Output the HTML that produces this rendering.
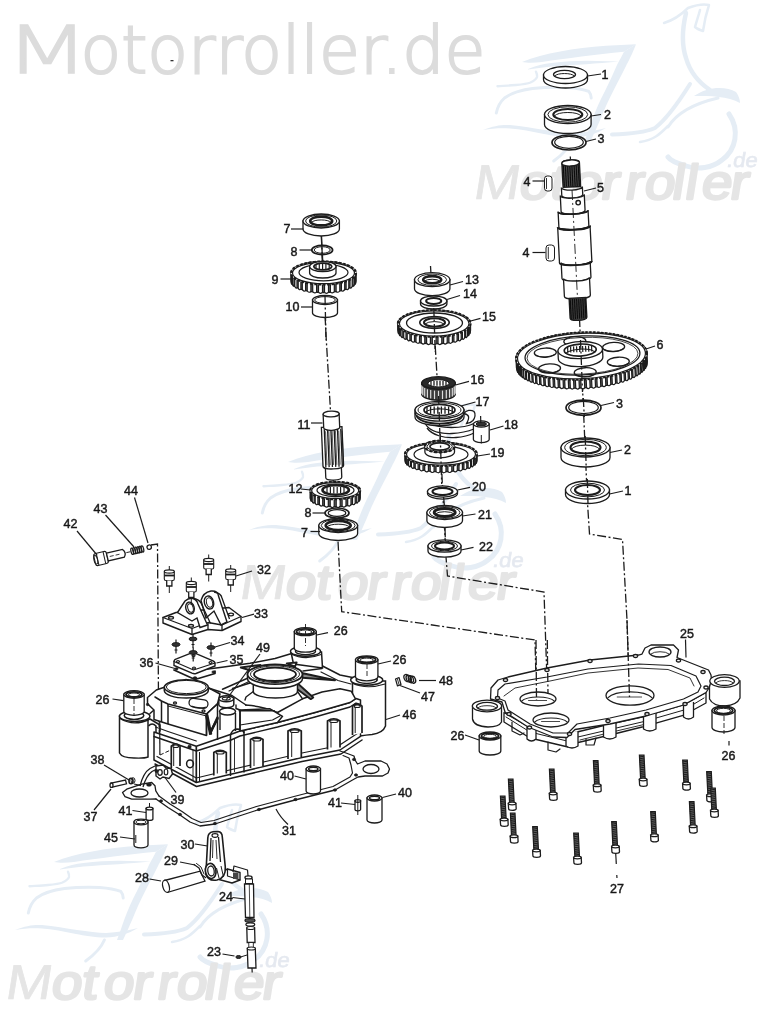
<!DOCTYPE html>
<html lang="de"><head><meta charset="utf-8"><title>Motorroller.de</title>
<style>
html,body{margin:0;padding:0;background:#fff;}
body{width:768px;height:1010px;overflow:hidden;}
svg{display:block;}
.lb{font-family:"Liberation Sans","DejaVu Sans",sans-serif;fill:#1a1a1a;stroke:#1a1a1a;stroke-width:0.45px;text-anchor:middle;}
</style></head><body>
<svg width="768" height="1010" viewBox="0 0 768 1010">
<defs><filter id="soft" x="0" y="0" width="100%" height="100%" filterUnits="objectBoundingBox"><feGaussianBlur stdDeviation="0.45"/></filter></defs>
<rect width="768" height="1010" fill="#fff"/>
<g filter="url(#soft)">
<rect width="768" height="1010" fill="#fff"/>
<g transform="translate(0 0)" fill="none" stroke="#e5edf5" stroke-linecap="round" stroke-linejoin="round">
<path d="M522 62 C544 53 574 48 606 45.7 L636 44.3 L624 51.8 C596 54.5 566 58.5 542 62 C534 63 527 63 522 62 Z" fill="#e5edf5" stroke="none"/>
<path d="M528 69 C536 65.5 544 63.8 551.5 63 C564 61.5 576 61 586.5 60.8 L619 61.6 C608 62.6 596 63.4 586.5 64.2 C574 65 562 65.6 551.5 66.5 C543 67.5 535 68.6 528 69.5 Z" fill="#e5edf5" stroke="none"/>
<path d="M636 44.3 C632 55 628 62 626 66 C622 74 618 82 614.5 88.5 C609 99 604 110 600.5 119 C597 127 594 134 591 140 L585 140 C588 132 590 126 592.5 119 C596 110 600 100 605 91 C609 83 613 74 617 65 C619 61 622 56 624 51.8 Z" fill="#e5edf5" stroke="none"/>
<path d="M497.5 86.2 C504 85.8 510 85.6 516 85 C522 84.5 527 84 530.5 82.5 C534.5 80.5 536.5 79 537 77 C537.3 75 536.6 73 536 71.7" stroke-width="2.4"/>
<path d="M496.3 113 C497.5 107 500 102 504.5 98 C512 92.5 522 90 532.5 88.6 C544 87.2 556 86.9 567.7 87.4 C576 88 584 89.5 588.8 91.4 C590.5 93.5 591.2 95.5 591.2 98" stroke-width="3"/>
<path d="M483 130 C494 125.5 502 124.5 510 125 C522 126 534 128.5 545 130 C556 131.5 566 133 574 133 C586 132.5 596 130.5 606 128 C596 134 586 137 574 137.5 C562 137.5 552 135.5 544 134 C532 131.5 520 129 510 128.5 C500 128 492 128.5 483 130 Z" fill="#e5edf5" stroke="none"/>
<path d="M553.7 161 C562 155 569 148 572.4 140" stroke-width="3"/>
<path d="M612 134.5 C630 134 646 132 655 128 C668 118 680 100 690 84" stroke-width="4"/>
<path d="M640 142 C654 140 660 134 668 126" stroke-width="2.5"/>
<path d="M686 13 C682 30 682 46 686 58 C690 72 698 82 710 90" stroke-width="4.5"/>
<path d="M664 23 C674 20 682 14 688 8 C696 5 704 4 709 5 C706 14 704 24 703 31 C700 30 697 29 695 27 C697 20 699 14 700 10" stroke-width="2.5"/>
<path d="M694 96 C708 86 726 86 736 92 C739 96 740 100 740 103 C728 96 710 96 694 96 Z" fill="#e5edf5" stroke="none"/>
<path d="M729 114 C740 130 736 150 722 160 C712 168 698 170 686 166 C676 163 670 160 668 157" stroke-width="5"/>
<path d="M668 127 C676 114 692 104 718 98" stroke-width="3"/>
</g>
<text transform="translate(472 199) skewX(-9) scale(1.13 1)" x="0 40.5 67.5 86.5 112.7 134 151.2 175.6 187.1 201.5 227" y="0" font-family="'Liberation Sans', 'DejaVu Sans', sans-serif" font-size="49" fill="#e5e5e5" stroke="#e5e5e5" stroke-width="2.3" stroke-linejoin="round"><tspan stroke-width="0.7">M</tspan>otorroller</text>
<text transform="translate(726 167.2) skewX(-9)" x="0" y="0" font-family="'Liberation Sans', 'DejaVu Sans', sans-serif" font-size="20.5" fill="#e5e9f0" stroke="#e5e9f0" stroke-width="0.6" textLength="31" lengthAdjust="spacingAndGlyphs">.de</text>
<g transform="translate(-234 400)" fill="none" stroke="#e5edf5" stroke-linecap="round" stroke-linejoin="round">
<path d="M522 62 C544 53 574 48 606 45.7 L636 44.3 L624 51.8 C596 54.5 566 58.5 542 62 C534 63 527 63 522 62 Z" fill="#e5edf5" stroke="none"/>
<path d="M528 69 C536 65.5 544 63.8 551.5 63 C564 61.5 576 61 586.5 60.8 L619 61.6 C608 62.6 596 63.4 586.5 64.2 C574 65 562 65.6 551.5 66.5 C543 67.5 535 68.6 528 69.5 Z" fill="#e5edf5" stroke="none"/>
<path d="M636 44.3 C632 55 628 62 626 66 C622 74 618 82 614.5 88.5 C609 99 604 110 600.5 119 C597 127 594 134 591 140 L585 140 C588 132 590 126 592.5 119 C596 110 600 100 605 91 C609 83 613 74 617 65 C619 61 622 56 624 51.8 Z" fill="#e5edf5" stroke="none"/>
<path d="M497.5 86.2 C504 85.8 510 85.6 516 85 C522 84.5 527 84 530.5 82.5 C534.5 80.5 536.5 79 537 77 C537.3 75 536.6 73 536 71.7" stroke-width="2.4"/>
<path d="M496.3 113 C497.5 107 500 102 504.5 98 C512 92.5 522 90 532.5 88.6 C544 87.2 556 86.9 567.7 87.4 C576 88 584 89.5 588.8 91.4 C590.5 93.5 591.2 95.5 591.2 98" stroke-width="3"/>
<path d="M483 130 C494 125.5 502 124.5 510 125 C522 126 534 128.5 545 130 C556 131.5 566 133 574 133 C586 132.5 596 130.5 606 128 C596 134 586 137 574 137.5 C562 137.5 552 135.5 544 134 C532 131.5 520 129 510 128.5 C500 128 492 128.5 483 130 Z" fill="#e5edf5" stroke="none"/>
<path d="M553.7 161 C562 155 569 148 572.4 140" stroke-width="3"/>
<path d="M612 134.5 C630 134 646 132 655 128 C668 118 680 100 690 84" stroke-width="4"/>
<path d="M640 142 C654 140 660 134 668 126" stroke-width="2.5"/>
<path d="M686 13 C682 30 682 46 686 58 C690 72 698 82 710 90" stroke-width="4.5"/>
<path d="M664 23 C674 20 682 14 688 8 C696 5 704 4 709 5 C706 14 704 24 703 31 C700 30 697 29 695 27 C697 20 699 14 700 10" stroke-width="2.5"/>
<path d="M694 96 C708 86 726 86 736 92 C739 96 740 100 740 103 C728 96 710 96 694 96 Z" fill="#e5edf5" stroke="none"/>
<path d="M729 114 C740 130 736 150 722 160 C712 168 698 170 686 166 C676 163 670 160 668 157" stroke-width="5"/>
<path d="M668 127 C676 114 692 104 718 98" stroke-width="3"/>
</g>
<text transform="translate(238 599) skewX(-9) scale(1.13 1)" x="0 40.5 67.5 86.5 112.7 134 151.2 175.6 187.1 201.5 227" y="0" font-family="'Liberation Sans', 'DejaVu Sans', sans-serif" font-size="49" fill="#e5e5e5" stroke="#e5e5e5" stroke-width="2.3" stroke-linejoin="round"><tspan stroke-width="0.7">M</tspan>otorroller</text>
<text transform="translate(492 567.2) skewX(-9)" x="0" y="0" font-family="'Liberation Sans', 'DejaVu Sans', sans-serif" font-size="20.5" fill="#e5e9f0" stroke="#e5e9f0" stroke-width="0.6" textLength="31" lengthAdjust="spacingAndGlyphs">.de</text>
<g transform="translate(-468 800)" fill="none" stroke="#e5edf5" stroke-linecap="round" stroke-linejoin="round">
<path d="M522 62 C544 53 574 48 606 45.7 L636 44.3 L624 51.8 C596 54.5 566 58.5 542 62 C534 63 527 63 522 62 Z" fill="#e5edf5" stroke="none"/>
<path d="M528 69 C536 65.5 544 63.8 551.5 63 C564 61.5 576 61 586.5 60.8 L619 61.6 C608 62.6 596 63.4 586.5 64.2 C574 65 562 65.6 551.5 66.5 C543 67.5 535 68.6 528 69.5 Z" fill="#e5edf5" stroke="none"/>
<path d="M636 44.3 C632 55 628 62 626 66 C622 74 618 82 614.5 88.5 C609 99 604 110 600.5 119 C597 127 594 134 591 140 L585 140 C588 132 590 126 592.5 119 C596 110 600 100 605 91 C609 83 613 74 617 65 C619 61 622 56 624 51.8 Z" fill="#e5edf5" stroke="none"/>
<path d="M497.5 86.2 C504 85.8 510 85.6 516 85 C522 84.5 527 84 530.5 82.5 C534.5 80.5 536.5 79 537 77 C537.3 75 536.6 73 536 71.7" stroke-width="2.4"/>
<path d="M496.3 113 C497.5 107 500 102 504.5 98 C512 92.5 522 90 532.5 88.6 C544 87.2 556 86.9 567.7 87.4 C576 88 584 89.5 588.8 91.4 C590.5 93.5 591.2 95.5 591.2 98" stroke-width="3"/>
<path d="M483 130 C494 125.5 502 124.5 510 125 C522 126 534 128.5 545 130 C556 131.5 566 133 574 133 C586 132.5 596 130.5 606 128 C596 134 586 137 574 137.5 C562 137.5 552 135.5 544 134 C532 131.5 520 129 510 128.5 C500 128 492 128.5 483 130 Z" fill="#e5edf5" stroke="none"/>
<path d="M553.7 161 C562 155 569 148 572.4 140" stroke-width="3"/>
<path d="M612 134.5 C630 134 646 132 655 128 C668 118 680 100 690 84" stroke-width="4"/>
<path d="M640 142 C654 140 660 134 668 126" stroke-width="2.5"/>
<path d="M686 13 C682 30 682 46 686 58 C690 72 698 82 710 90" stroke-width="4.5"/>
<path d="M664 23 C674 20 682 14 688 8 C696 5 704 4 709 5 C706 14 704 24 703 31 C700 30 697 29 695 27 C697 20 699 14 700 10" stroke-width="2.5"/>
<path d="M694 96 C708 86 726 86 736 92 C739 96 740 100 740 103 C728 96 710 96 694 96 Z" fill="#e5edf5" stroke="none"/>
<path d="M729 114 C740 130 736 150 722 160 C712 168 698 170 686 166 C676 163 670 160 668 157" stroke-width="5"/>
<path d="M668 127 C676 114 692 104 718 98" stroke-width="3"/>
</g>
<text transform="translate(4 999) skewX(-9) scale(1.13 1)" x="0 40.5 67.5 86.5 112.7 134 151.2 175.6 187.1 201.5 227" y="0" font-family="'Liberation Sans', 'DejaVu Sans', sans-serif" font-size="49" fill="#e5e5e5" stroke="#e5e5e5" stroke-width="2.3" stroke-linejoin="round"><tspan stroke-width="0.7">M</tspan>otorroller</text>
<text transform="translate(258 967.2) skewX(-9)" x="0" y="0" font-family="'Liberation Sans', 'DejaVu Sans', sans-serif" font-size="20.5" fill="#e5e9f0" stroke="#e5e9f0" stroke-width="0.6" textLength="31" lengthAdjust="spacingAndGlyphs">.de</text>
<text y="73.3" font-family="'DejaVu Sans Light', 'DejaVu Sans', 'Liberation Sans', sans-serif" font-weight="200" font-size="66" fill="#dcdcdc" stroke="#dcdcdc" stroke-width="2.1"><tspan x="5" textLength="84.5" lengthAdjust="spacingAndGlyphs" stroke-width="1.4">M</tspan><tspan x="80.5" textLength="405" lengthAdjust="spacingAndGlyphs">otorroller.de</tspan></text>
<rect x="170.5" y="60" width="3" height="1.3" fill="#333"/>
<line x1="570.3" y1="156.5" x2="570.5" y2="162" stroke="#1c1c1c" stroke-width="1.2"/>
<path d="M579.5 318 L587.5 503 L589.5 534 L622.5 539.5 L627 620 L629.5 697" fill="none" stroke="#1c1c1c" stroke-width="1.3" stroke-dasharray="9 2.5 2 2.5"/>
<path d="M430.5 266 L437 376 L446 557 L447.5 576 L544 592 L547.5 694" fill="none" stroke="#1c1c1c" stroke-width="1.3" stroke-dasharray="9 2.5 2 2.5"/>
<path d="M321.3 236 L326 335 L330.5 411" fill="none" stroke="#1c1c1c" stroke-width="1.3" stroke-dasharray="9 2.5 2 2.5"/>
<path d="M333 478 L338 541 L341.7 611.7 L535 640 L536.5 700" fill="none" stroke="#1c1c1c" stroke-width="1.3" stroke-dasharray="9 2.5 2 2.5"/>
<path d="M151 545 L157.5 544 L158.5 700 L160 760" fill="none" stroke="#1c1c1c" stroke-width="1.3" stroke-dasharray="9 2.5 2 2.5"/>
<path d="M543.5 75 L543.5 79.5 A22 8.5 0 0 0 587.5 79.5 L587.5 75 Z" fill="white" stroke="#1c1c1c" stroke-width="1.3"/>
<ellipse cx="565.5" cy="75" rx="22" ry="8.5" fill="white" stroke="#1c1c1c" stroke-width="1.3"/>
<ellipse cx="564.5" cy="74.5" rx="11" ry="4.2" fill="none" stroke="#1c1c1c" stroke-width="1.3"/>
<path d="M554.5 76 A11 4.2 0 0 1 574.5 76" fill="none" stroke="#1c1c1c" stroke-width="1"/>
<line x1="587.5" y1="76" x2="601" y2="74" stroke="#1c1c1c" stroke-width="1.2"/>
<text x="605" y="78.5" class="lb" font-size="12.5">1</text>
<path d="M544.5 114.5 L544.5 124.5 A23.3 9 0 0 0 591.1 124.5 L591.1 114.5 Z" fill="white" stroke="#1c1c1c" stroke-width="1.3"/>
<ellipse cx="567.8" cy="114.5" rx="23.3" ry="9" fill="white" stroke="#1c1c1c" stroke-width="1.3"/>
<ellipse cx="567.8" cy="114.5" rx="19.9" ry="7.7" fill="none" stroke="#1c1c1c" stroke-width="1"/>
<ellipse cx="567.8" cy="114.5" rx="14.5" ry="5.5" fill="none" stroke="#1c1c1c" stroke-width="2.1"/>
<path d="M554.3 116 A14.5 5.5 0 0 1 581.3 116" fill="none" stroke="#1c1c1c" stroke-width="1"/>
<line x1="591" y1="116" x2="601" y2="114.5" stroke="#1c1c1c" stroke-width="1.2"/>
<text x="607.5" y="118.5" class="lb" font-size="12.5">2</text>
<ellipse cx="569" cy="142.5" rx="17" ry="7.5" fill="white" stroke="#1c1c1c" stroke-width="1.7"/>
<ellipse cx="569" cy="142.3" rx="14.3" ry="6" fill="none" stroke="#1c1c1c" stroke-width="1.2"/>
<line x1="586" y1="141.5" x2="596" y2="139" stroke="#1c1c1c" stroke-width="1.2"/>
<text x="601" y="142.5" class="lb" font-size="12.5">3</text>
<g transform="rotate(-2.9 570.5 160)">
<path d="M561.7 163 L561.7 187 L579.3 187 L579.3 163 A8.8 3 0 0 0 561.7 163 Z" fill="#555" stroke="#1c1c1c" stroke-width="1.3"/>
<line x1="563" y1="164.5" x2="563" y2="186.5" stroke="#111" stroke-width="1.3"/>
<line x1="565.1" y1="164.5" x2="565.1" y2="186.5" stroke="#111" stroke-width="1.3"/>
<line x1="567.3" y1="164.5" x2="567.3" y2="186.5" stroke="#111" stroke-width="1.3"/>
<line x1="569.5" y1="164.5" x2="569.5" y2="186.5" stroke="#111" stroke-width="1.3"/>
<line x1="571.6" y1="164.5" x2="571.6" y2="186.5" stroke="#111" stroke-width="1.3"/>
<line x1="573.8" y1="164.5" x2="573.8" y2="186.5" stroke="#111" stroke-width="1.3"/>
<line x1="575.9" y1="164.5" x2="575.9" y2="186.5" stroke="#111" stroke-width="1.3"/>
<line x1="578" y1="164.5" x2="578" y2="186.5" stroke="#111" stroke-width="1.3"/>
<ellipse cx="570.5" cy="163" rx="8.8" ry="3" fill="white" stroke="#1c1c1c" stroke-width="1.3"/>
<path d="M560 187 L560 195 A10.5 3.2 0 0 0 581 195 L581 187 A10.5 3.2 0 0 1 560 187 Z" fill="white" stroke="#1c1c1c" stroke-width="1.3"/>
<path d="M558.5 195 L558.5 211 A12 3.2 0 0 0 582.5 211 L582.5 195 A12 3.2 0 0 1 558.5 195 Z" fill="white" stroke="#1c1c1c" stroke-width="1.3"/>
<path d="M555.5 211 L555.5 226.5 A15 3.2 0 0 0 585.5 226.5 L585.5 211 A15 3.2 0 0 1 555.5 211 Z" fill="white" stroke="#1c1c1c" stroke-width="1.3"/>
<path d="M554.3 226.5 L554.3 262 A16.2 3.2 0 0 0 586.7 262 L586.7 226.5 A16.2 3.2 0 0 1 554.3 226.5 Z" fill="white" stroke="#1c1c1c" stroke-width="1.3"/>
<path d="M556 262 L556 278 A14.5 3.2 0 0 0 585 278 L585 262 A14.5 3.2 0 0 1 556 262 Z" fill="white" stroke="#1c1c1c" stroke-width="1.3"/>
<path d="M557.5 278 L557.5 296 A13 3.2 0 0 0 583.5 296 L583.5 278 A13 3.2 0 0 1 557.5 278 Z" fill="white" stroke="#1c1c1c" stroke-width="1.3"/>
<path d="M554.3 226.5 A16.2 3.4 0 0 0 586.7 226.5" fill="none" stroke="#1c1c1c" stroke-width="2.1"/>
<path d="M555.5 211 A15 3.2 0 0 0 585.5 211" fill="none" stroke="#1c1c1c" stroke-width="1.7"/>
<path d="M554.3 262 A16.2 3.4 0 0 0 586.7 262" fill="none" stroke="#1c1c1c" stroke-width="1.7"/>
<ellipse cx="576" cy="203" rx="2.2" ry="2.2" fill="none" stroke="#1c1c1c" stroke-width="1.4"/>
<path d="M562.1 298 L562.1 318 A8.4 2.6 0 0 0 578.9 318 L578.9 298 Z" fill="#444" stroke="#1c1c1c" stroke-width="1.3"/>
<line x1="563.2" y1="299" x2="563.2" y2="319" stroke="#111" stroke-width="1.3"/>
<line x1="565.3" y1="299" x2="565.3" y2="319" stroke="#111" stroke-width="1.3"/>
<line x1="567.4" y1="299" x2="567.4" y2="319" stroke="#111" stroke-width="1.3"/>
<line x1="569.5" y1="299" x2="569.5" y2="319" stroke="#111" stroke-width="1.3"/>
<line x1="571.6" y1="299" x2="571.6" y2="319" stroke="#111" stroke-width="1.3"/>
<line x1="573.7" y1="299" x2="573.7" y2="319" stroke="#111" stroke-width="1.3"/>
<line x1="575.8" y1="299" x2="575.8" y2="319" stroke="#111" stroke-width="1.3"/>
<line x1="577.9" y1="299" x2="577.9" y2="319" stroke="#111" stroke-width="1.3"/>
<line x1="570.5" y1="190" x2="570.5" y2="296" stroke="#1c1c1c" stroke-width="0.9" stroke-dasharray="10 3 2 3"/>
</g>
<rect x="544.5" y="176" width="7.5" height="15" rx="2.8" fill="white" stroke="#1c1c1c" stroke-width="1"/>
<line x1="546.5" y1="178" x2="546.5" y2="189" stroke="#1c1c1c" stroke-width="0.9"/>
<line x1="532.5" y1="181" x2="544" y2="181" stroke="#1c1c1c" stroke-width="1.2"/>
<text x="527" y="185.5" class="lb" font-size="12.5">4</text>
<rect x="546" y="245" width="8.5" height="16" rx="3" fill="white" stroke="#1c1c1c" stroke-width="1"/>
<line x1="548.3" y1="247" x2="548.3" y2="259" stroke="#1c1c1c" stroke-width="0.9"/>
<line x1="532.5" y1="252.5" x2="545.5" y2="252.5" stroke="#1c1c1c" stroke-width="1.2"/>
<text x="526" y="257" class="lb" font-size="12.5">4</text>
<line x1="584" y1="191" x2="596" y2="188" stroke="#1c1c1c" stroke-width="1.2"/>
<text x="600.5" y="192" class="lb" font-size="12.5">5</text>
<g transform="rotate(-2.6 581.5 356)">
<path d="M516 356 L516 364.5 A65.5 23.5 0 0 0 647 364.5 L647 356 A65.5 23.5 0 0 0 516 356 Z" fill="#6a6a6a" stroke="#1c1c1c" stroke-width="1.3"/>
<path d="M645.8 360 L645.8 368.7 Q646.1 370.6 646.4 367.4 L646.4 358.7" fill="white" stroke="#1c1c1c" stroke-width="1.2"/>
<path d="M644.5 361.9 L644.5 370.6 Q645 372.5 645.4 369.3 L645.4 360.6" fill="white" stroke="#1c1c1c" stroke-width="1.2"/>
<path d="M642.8 363.8 L642.8 372.5 Q643.4 374.3 644 371.2 L644 362.5" fill="white" stroke="#1c1c1c" stroke-width="1.2"/>
<path d="M640.7 365.5 L640.7 374.2 Q641.5 376.1 642.2 373 L642.2 364.3" fill="white" stroke="#1c1c1c" stroke-width="1.2"/>
<path d="M638.2 367.3 L638.2 376 Q639.1 377.9 640 374.8 L640 366.1" fill="white" stroke="#1c1c1c" stroke-width="1.2"/>
<path d="M635.3 368.9 L635.3 377.6 Q636.3 379.5 637.3 376.5 L637.3 367.8" fill="white" stroke="#1c1c1c" stroke-width="1.2"/>
<path d="M632 370.4 L632 379.1 Q633.2 381.1 634.3 378.1 L634.3 369.4" fill="white" stroke="#1c1c1c" stroke-width="1.2"/>
<path d="M628.4 371.9 L628.4 380.6 Q629.7 382.6 630.9 379.6 L630.9 370.9" fill="white" stroke="#1c1c1c" stroke-width="1.2"/>
<path d="M624.5 373.2 L624.5 381.9 Q625.8 384 627.2 381 L627.2 372.3" fill="white" stroke="#1c1c1c" stroke-width="1.2"/>
<path d="M620.3 374.4 L620.3 383.1 Q621.7 385.2 623.2 382.3 L623.2 373.6" fill="white" stroke="#1c1c1c" stroke-width="1.2"/>
<path d="M615.8 375.5 L615.8 384.2 Q617.3 386.4 618.9 383.5 L618.9 374.8" fill="white" stroke="#1c1c1c" stroke-width="1.2"/>
<path d="M611 376.5 L611 385.2 Q612.7 387.4 614.3 384.5 L614.3 375.8" fill="white" stroke="#1c1c1c" stroke-width="1.2"/>
<path d="M606.1 377.3 L606.1 386 Q607.8 388.2 609.5 385.4 L609.5 376.7" fill="white" stroke="#1c1c1c" stroke-width="1.2"/>
<path d="M601 377.9 L601 386.6 Q602.8 388.9 604.5 386.2 L604.5 377.5" fill="white" stroke="#1c1c1c" stroke-width="1.2"/>
<path d="M595.8 378.4 L595.8 387.1 Q597.6 389.5 599.4 386.8 L599.4 378.1" fill="white" stroke="#1c1c1c" stroke-width="1.2"/>
<path d="M590.5 378.8 L590.5 387.5 Q592.3 389.9 594.1 387.3 L594.1 378.6" fill="white" stroke="#1c1c1c" stroke-width="1.2"/>
<path d="M585.1 379 L585.1 387.7 Q586.9 390.1 588.7 387.6 L588.7 378.9" fill="white" stroke="#1c1c1c" stroke-width="1.2"/>
<path d="M579.7 379 L579.7 387.7 Q581.5 390.2 583.3 387.7 L583.3 379" fill="white" stroke="#1c1c1c" stroke-width="1.2"/>
<path d="M574.3 378.9 L574.3 387.6 Q576.1 390.1 577.9 387.7 L577.9 379" fill="white" stroke="#1c1c1c" stroke-width="1.2"/>
<path d="M568.9 378.6 L568.9 387.3 Q570.7 389.9 572.5 387.5 L572.5 378.8" fill="white" stroke="#1c1c1c" stroke-width="1.2"/>
<path d="M563.6 378.1 L563.6 386.8 Q565.4 389.5 567.2 387.1 L567.2 378.4" fill="white" stroke="#1c1c1c" stroke-width="1.2"/>
<path d="M558.5 377.5 L558.5 386.2 Q560.2 388.9 562 386.6 L562 377.9" fill="white" stroke="#1c1c1c" stroke-width="1.2"/>
<path d="M553.5 376.7 L553.5 385.4 Q555.2 388.2 556.9 386 L556.9 377.3" fill="white" stroke="#1c1c1c" stroke-width="1.2"/>
<path d="M548.7 375.8 L548.7 384.5 Q550.3 387.4 552 385.2 L552 376.5" fill="white" stroke="#1c1c1c" stroke-width="1.2"/>
<path d="M544.1 374.8 L544.1 383.5 Q545.7 386.4 547.2 384.2 L547.2 375.5" fill="white" stroke="#1c1c1c" stroke-width="1.2"/>
<path d="M539.8 373.6 L539.8 382.3 Q541.3 385.2 542.7 383.1 L542.7 374.4" fill="white" stroke="#1c1c1c" stroke-width="1.2"/>
<path d="M535.8 372.3 L535.8 381 Q537.2 384 538.5 381.9 L538.5 373.2" fill="white" stroke="#1c1c1c" stroke-width="1.2"/>
<path d="M532.1 370.9 L532.1 379.6 Q533.3 382.6 534.6 380.6 L534.6 371.9" fill="white" stroke="#1c1c1c" stroke-width="1.2"/>
<path d="M528.7 369.4 L528.7 378.1 Q529.8 381.1 531 379.1 L531 370.4" fill="white" stroke="#1c1c1c" stroke-width="1.2"/>
<path d="M525.7 367.8 L525.7 376.5 Q526.7 379.5 527.7 377.6 L527.7 368.9" fill="white" stroke="#1c1c1c" stroke-width="1.2"/>
<path d="M523 366.1 L523 374.8 Q523.9 377.9 524.8 376 L524.8 367.3" fill="white" stroke="#1c1c1c" stroke-width="1.2"/>
<path d="M520.8 364.3 L520.8 373 Q521.5 376.1 522.3 374.2 L522.3 365.5" fill="white" stroke="#1c1c1c" stroke-width="1.2"/>
<path d="M519 362.5 L519 371.2 Q519.6 374.3 520.2 372.5 L520.2 363.8" fill="white" stroke="#1c1c1c" stroke-width="1.2"/>
<path d="M517.6 360.6 L517.6 369.3 Q518 372.5 518.5 370.6 L518.5 361.9" fill="white" stroke="#1c1c1c" stroke-width="1.2"/>
<path d="M516.6 358.7 L516.6 367.4 Q516.9 370.6 517.2 368.7 L517.2 360" fill="white" stroke="#1c1c1c" stroke-width="1.2"/>
<ellipse cx="581.5" cy="356" rx="65.5" ry="23.5" fill="white" stroke="#1c1c1c" stroke-width="2.2" stroke-dasharray="2.4 1.5"/>
<ellipse cx="581.5" cy="356" rx="64" ry="22.7" fill="white" stroke="#1c1c1c" stroke-width="1.2"/>
</g>
<g transform="rotate(-2.6 581.5 356)">
<ellipse cx="582.5" cy="355.5" rx="57.5" ry="19.5" fill="none" stroke="#1c1c1c" stroke-width="1.3"/>
<ellipse cx="582.5" cy="355.8" rx="55.5" ry="18.3" fill="none" stroke="#1c1c1c" stroke-width="0.8"/>
<ellipse cx="545.5" cy="351" rx="11" ry="4.6" fill="none" stroke="#1c1c1c" stroke-width="1.3"/>
<path d="M536 353 A11 4.6 0 0 0 555 353" fill="none" stroke="#1c1c1c" stroke-width="1"/>
<ellipse cx="575.5" cy="341" rx="11" ry="4.6" fill="none" stroke="#1c1c1c" stroke-width="1.3"/>
<path d="M566 343 A11 4.6 0 0 0 585 343" fill="none" stroke="#1c1c1c" stroke-width="1"/>
<ellipse cx="614" cy="348.5" rx="11" ry="4.6" fill="none" stroke="#1c1c1c" stroke-width="1.3"/>
<path d="M604.5 350.5 A11 4.6 0 0 0 623.5 350.5" fill="none" stroke="#1c1c1c" stroke-width="1"/>
<ellipse cx="618" cy="363.5" rx="11" ry="4.6" fill="none" stroke="#1c1c1c" stroke-width="1.3"/>
<path d="M608.5 365.5 A11 4.6 0 0 0 627.5 365.5" fill="none" stroke="#1c1c1c" stroke-width="1"/>
<ellipse cx="584.5" cy="372.5" rx="11" ry="4.6" fill="none" stroke="#1c1c1c" stroke-width="1.3"/>
<path d="M575 374.5 A11 4.6 0 0 0 594 374.5" fill="none" stroke="#1c1c1c" stroke-width="1"/>
<ellipse cx="549" cy="367" rx="11" ry="4.6" fill="none" stroke="#1c1c1c" stroke-width="1.3"/>
<path d="M539.5 369 A11 4.6 0 0 0 558.5 369" fill="none" stroke="#1c1c1c" stroke-width="1"/>
<path d="M558.2 350 L558.2 358 A22.3 8.5 0 0 0 602.8 358 L602.8 350 Z" fill="white" stroke="#1c1c1c" stroke-width="1.3"/>
<ellipse cx="580.5" cy="350" rx="22.3" ry="8.5" fill="white" stroke="#1c1c1c" stroke-width="1.3"/>
<ellipse cx="580.5" cy="350" rx="16" ry="6" fill="none" stroke="#1c1c1c" stroke-width="1.7"/>
<line x1="568" y1="346" x2="568" y2="352" stroke="#1c1c1c" stroke-width="1.2"/>
<line x1="571" y1="346" x2="571" y2="352" stroke="#1c1c1c" stroke-width="1.2"/>
<line x1="574" y1="346" x2="574" y2="352" stroke="#1c1c1c" stroke-width="1.2"/>
<line x1="577" y1="346" x2="577" y2="352" stroke="#1c1c1c" stroke-width="1.2"/>
<line x1="580" y1="346" x2="580" y2="352" stroke="#1c1c1c" stroke-width="1.2"/>
<line x1="583" y1="346" x2="583" y2="352" stroke="#1c1c1c" stroke-width="1.2"/>
<line x1="586" y1="346" x2="586" y2="352" stroke="#1c1c1c" stroke-width="1.2"/>
<line x1="589" y1="346" x2="589" y2="352" stroke="#1c1c1c" stroke-width="1.2"/>
<line x1="592" y1="346" x2="592" y2="352" stroke="#1c1c1c" stroke-width="1.2"/>
<path d="M565.5 353 A16 6 0 0 1 595.5 353" fill="none" stroke="#1c1c1c" stroke-width="1"/>
</g>
<line x1="646" y1="349" x2="655" y2="346" stroke="#1c1c1c" stroke-width="1.2"/>
<text x="660" y="349" class="lb" font-size="12.5">6</text>
<path d="M580.5 340 L582.5 392" fill="none" stroke="#1c1c1c" stroke-width="1.3" stroke-dasharray="9 2.5 2 2.5"/>
<ellipse cx="583.5" cy="407.7" rx="17.5" ry="7.6" fill="white" stroke="#1c1c1c" stroke-width="1.7"/>
<ellipse cx="583.5" cy="407.5" rx="14.8" ry="6.1" fill="none" stroke="#1c1c1c" stroke-width="1.2"/>
<line x1="601" y1="405.5" x2="614" y2="402.5" stroke="#1c1c1c" stroke-width="1.2"/>
<text x="619.5" y="407.5" class="lb" font-size="12.5">3</text>
<path d="M583.3 398 L584.3 417" fill="none" stroke="#1c1c1c" stroke-width="1.3" stroke-dasharray="9 2.5 2 2.5"/>
<path d="M561 447.5 L561 457.5 A24.5 9.5 0 0 0 610 457.5 L610 447.5 Z" fill="white" stroke="#1c1c1c" stroke-width="1.3"/>
<ellipse cx="585.5" cy="447.5" rx="24.5" ry="9.5" fill="white" stroke="#1c1c1c" stroke-width="1.3"/>
<ellipse cx="585.5" cy="447.5" rx="20.8" ry="8.2" fill="none" stroke="#1c1c1c" stroke-width="1"/>
<ellipse cx="585.5" cy="447.5" rx="15" ry="6" fill="none" stroke="#1c1c1c" stroke-width="2.1"/>
<path d="M571.5 449 A15 6 0 0 1 599.5 449" fill="none" stroke="#1c1c1c" stroke-width="1"/>
<line x1="610" y1="452.5" x2="622" y2="450" stroke="#1c1c1c" stroke-width="1.2"/>
<text x="627.5" y="453.5" class="lb" font-size="12.5">2</text>
<path d="M585.2 436 L586.2 468" fill="none" stroke="#1c1c1c" stroke-width="1.3" stroke-dasharray="9 2.5 2 2.5"/>
<path d="M565.5 490 L565.5 494.5 A22 9 0 0 0 609.5 494.5 L609.5 490 Z" fill="white" stroke="#1c1c1c" stroke-width="1.3"/>
<ellipse cx="587.5" cy="490" rx="22" ry="9" fill="white" stroke="#1c1c1c" stroke-width="1.3"/>
<ellipse cx="587.5" cy="490" rx="17" ry="6.8" fill="none" stroke="#1c1c1c" stroke-width="1"/>
<ellipse cx="587.5" cy="490" rx="12.5" ry="5" fill="none" stroke="#1c1c1c" stroke-width="2.1"/>
<line x1="609.5" y1="494" x2="623" y2="491" stroke="#1c1c1c" stroke-width="1.2"/>
<text x="628" y="494.5" class="lb" font-size="12.5">1</text>
<path d="M587.3 479 L588 504" fill="none" stroke="#1c1c1c" stroke-width="1.3" stroke-dasharray="9 2.5 2 2.5"/>
<path d="M414.5 279.7 L414.5 288.7 A17.7 7 0 0 0 449.9 288.7 L449.9 279.7 Z" fill="white" stroke="#1c1c1c" stroke-width="1.3"/>
<ellipse cx="432.2" cy="279.7" rx="17.7" ry="7" fill="white" stroke="#1c1c1c" stroke-width="1.3"/>
<ellipse cx="432.2" cy="279.7" rx="14.3" ry="5.7" fill="none" stroke="#1c1c1c" stroke-width="1"/>
<ellipse cx="432.2" cy="279.7" rx="9" ry="3.6" fill="none" stroke="#1c1c1c" stroke-width="2.6"/>
<path d="M424.2 281.2 A9 3.6 0 0 1 440.2 281.2" fill="none" stroke="#1c1c1c" stroke-width="1"/>
<line x1="450" y1="285" x2="463" y2="281.5" stroke="#1c1c1c" stroke-width="1.2"/>
<text x="472" y="284" class="lb" font-size="12.5">13</text>
<path d="M420.5 301 L420.5 304 A13.2 5 0 0 0 446.9 304 L446.9 301 Z" fill="white" stroke="#1c1c1c" stroke-width="1.3"/>
<ellipse cx="433.7" cy="301" rx="13.2" ry="5" fill="white" stroke="#1c1c1c" stroke-width="1.3"/>
<ellipse cx="433.7" cy="301" rx="7.6" ry="3" fill="none" stroke="#1c1c1c" stroke-width="2.1"/>
<line x1="447" y1="299.5" x2="460" y2="295.5" stroke="#1c1c1c" stroke-width="1.2"/>
<text x="470" y="297.5" class="lb" font-size="12.5">14</text>
<g>
<path d="M397.9 323.5 L397.9 330.5 A36.3 13.3 0 0 0 470.5 330.5 L470.5 323.5 A36.3 13.3 0 0 0 397.9 323.5 Z" fill="#6a6a6a" stroke="#1c1c1c" stroke-width="1.3"/>
<path d="M469.7 325.8 L469.7 333 Q470 334.8 470.3 331.6 L470.3 324.4" fill="white" stroke="#1c1c1c" stroke-width="1.2"/>
<path d="M468.1 327.8 L468.1 335 Q468.7 336.8 469.3 333.6 L469.3 326.4" fill="white" stroke="#1c1c1c" stroke-width="1.2"/>
<path d="M465.6 329.7 L465.6 336.9 Q466.5 338.7 467.4 335.6 L467.4 328.4" fill="white" stroke="#1c1c1c" stroke-width="1.2"/>
<path d="M462.4 331.4 L462.4 338.6 Q463.5 340.5 464.7 337.4 L464.7 330.2" fill="white" stroke="#1c1c1c" stroke-width="1.2"/>
<path d="M458.5 332.9 L458.5 340.1 Q459.8 342.1 461.2 339.1 L461.2 331.9" fill="white" stroke="#1c1c1c" stroke-width="1.2"/>
<path d="M453.9 334.2 L453.9 341.4 Q455.5 343.4 457.1 340.5 L457.1 333.3" fill="white" stroke="#1c1c1c" stroke-width="1.2"/>
<path d="M448.9 335.2 L448.9 342.4 Q450.7 344.5 452.4 341.7 L452.4 334.5" fill="white" stroke="#1c1c1c" stroke-width="1.2"/>
<path d="M443.6 335.9 L443.6 343.1 Q445.4 345.3 447.2 342.6 L447.2 335.4" fill="white" stroke="#1c1c1c" stroke-width="1.2"/>
<path d="M438 336.2 L438 343.4 Q439.9 345.8 441.8 343.2 L441.8 336" fill="white" stroke="#1c1c1c" stroke-width="1.2"/>
<path d="M432.3 336.3 L432.3 343.5 Q434.2 346 436.1 343.5 L436.1 336.3" fill="white" stroke="#1c1c1c" stroke-width="1.2"/>
<path d="M426.6 336 L426.6 343.2 Q428.5 345.8 430.4 343.4 L430.4 336.2" fill="white" stroke="#1c1c1c" stroke-width="1.2"/>
<path d="M421.2 335.4 L421.2 342.6 Q423 345.3 424.8 343.1 L424.8 335.9" fill="white" stroke="#1c1c1c" stroke-width="1.2"/>
<path d="M416 334.5 L416 341.7 Q417.7 344.5 419.5 342.4 L419.5 335.2" fill="white" stroke="#1c1c1c" stroke-width="1.2"/>
<path d="M411.3 333.3 L411.3 340.5 Q412.9 343.4 414.5 341.4 L414.5 334.2" fill="white" stroke="#1c1c1c" stroke-width="1.2"/>
<path d="M407.2 331.9 L407.2 339.1 Q408.6 342.1 409.9 340.1 L409.9 332.9" fill="white" stroke="#1c1c1c" stroke-width="1.2"/>
<path d="M403.7 330.2 L403.7 337.4 Q404.9 340.5 406 338.6 L406 331.4" fill="white" stroke="#1c1c1c" stroke-width="1.2"/>
<path d="M401 328.4 L401 335.6 Q401.9 338.7 402.8 336.9 L402.8 329.7" fill="white" stroke="#1c1c1c" stroke-width="1.2"/>
<path d="M399.1 326.4 L399.1 333.6 Q399.7 336.8 400.3 335 L400.3 327.8" fill="white" stroke="#1c1c1c" stroke-width="1.2"/>
<path d="M398.1 324.4 L398.1 331.6 Q398.4 334.8 398.7 333 L398.7 325.8" fill="white" stroke="#1c1c1c" stroke-width="1.2"/>
<path d="M398.7 320.2 L398.7 327.4 Q398.4 330.6 398.1 328.8 L398.1 321.6" fill="white" stroke="#1c1c1c" stroke-width="1.2"/>
<path d="M470.3 321.6 L470.3 328.8 Q470 330.6 469.7 327.4 L469.7 320.2" fill="white" stroke="#1c1c1c" stroke-width="1.2"/>
<ellipse cx="434.2" cy="323.5" rx="36.3" ry="13.3" fill="white" stroke="#1c1c1c" stroke-width="2.2" stroke-dasharray="2.5 1.6"/>
<ellipse cx="434.2" cy="323.5" rx="34.8" ry="12.5" fill="white" stroke="#1c1c1c" stroke-width="1.2"/>
</g>
<ellipse cx="434.5" cy="323" rx="28" ry="10" fill="none" stroke="#1c1c1c" stroke-width="1.3"/>
<ellipse cx="434.5" cy="322.5" rx="14.7" ry="6" fill="white" stroke="#1c1c1c" stroke-width="1.6"/>
<ellipse cx="434.5" cy="322.5" rx="10.5" ry="4.2" fill="none" stroke="#1c1c1c" stroke-width="2"/>
<path d="M425 324 A10.5 4.2 0 0 1 444 324" fill="none" stroke="#1c1c1c" stroke-width="1"/>
<line x1="470.5" y1="321" x2="480.5" y2="318.3" stroke="#1c1c1c" stroke-width="1.2"/>
<text x="489" y="320.5" class="lb" font-size="12.5">15</text>
<path d="M433.8 308 L435.2 352" fill="none" stroke="#1c1c1c" stroke-width="1.3" stroke-dasharray="9 2.5 2 2.5"/>
<path d="M421.7 383 L421.7 394 A16.8 6.3 0 0 0 455.3 394 L455.3 383 Z" fill="#3a3a3a" stroke="#1c1c1c" stroke-width="1.3"/>
<line x1="455.2" y1="385.3" x2="455.2" y2="393.8" stroke="#ddd" stroke-width="1.2"/>
<line x1="454.2" y1="386.7" x2="454.2" y2="395.2" stroke="#ddd" stroke-width="1.2"/>
<line x1="452.3" y1="388.1" x2="452.3" y2="396.6" stroke="#ddd" stroke-width="1.2"/>
<line x1="449.6" y1="389.2" x2="449.6" y2="397.7" stroke="#ddd" stroke-width="1.2"/>
<line x1="446.3" y1="390.1" x2="446.3" y2="398.6" stroke="#ddd" stroke-width="1.2"/>
<line x1="442.5" y1="390.6" x2="442.5" y2="399.1" stroke="#ddd" stroke-width="1.2"/>
<line x1="438.5" y1="390.8" x2="438.5" y2="399.3" stroke="#ddd" stroke-width="1.2"/>
<line x1="434.5" y1="390.6" x2="434.5" y2="399.1" stroke="#ddd" stroke-width="1.2"/>
<line x1="430.7" y1="390.1" x2="430.7" y2="398.6" stroke="#ddd" stroke-width="1.2"/>
<line x1="427.4" y1="389.2" x2="427.4" y2="397.7" stroke="#ddd" stroke-width="1.2"/>
<line x1="424.7" y1="388.1" x2="424.7" y2="396.6" stroke="#ddd" stroke-width="1.2"/>
<line x1="422.8" y1="386.7" x2="422.8" y2="395.2" stroke="#ddd" stroke-width="1.2"/>
<line x1="421.8" y1="385.3" x2="421.8" y2="393.8" stroke="#ddd" stroke-width="1.2"/>
<ellipse cx="438.5" cy="383" rx="16.8" ry="6.3" fill="#2a2a2a" stroke="#1c1c1c" stroke-width="1.3"/>
<ellipse cx="438.5" cy="383.3" rx="10.5" ry="3.6" fill="white" stroke="#1c1c1c" stroke-width="1"/>
<line x1="431" y1="380.8" x2="431" y2="385.8" stroke="#1c1c1c" stroke-width="1.3"/>
<line x1="434" y1="380.8" x2="434" y2="385.8" stroke="#1c1c1c" stroke-width="1.3"/>
<line x1="437" y1="380.8" x2="437" y2="385.8" stroke="#1c1c1c" stroke-width="1.3"/>
<line x1="440" y1="380.8" x2="440" y2="385.8" stroke="#1c1c1c" stroke-width="1.3"/>
<line x1="443" y1="380.8" x2="443" y2="385.8" stroke="#1c1c1c" stroke-width="1.3"/>
<line x1="446" y1="380.8" x2="446" y2="385.8" stroke="#1c1c1c" stroke-width="1.3"/>
<line x1="455.5" y1="385" x2="469" y2="381.3" stroke="#1c1c1c" stroke-width="1.2"/>
<text x="477.5" y="384" class="lb" font-size="12.5">16</text>
<path d="M424 421 C427 430 438 434 452 433.5 C462 433 469 431 474 429 L474 423.5 C470 425.5 462 427.5 451.5 427.5 C441 427.5 434 425.5 431 423 Z" fill="white" stroke="#1c1c1c" stroke-width="1.3"/>
<path d="M427 428 C432 435 444 438.5 456 437.5 C464 437 470 435 474 433" fill="none" stroke="#1c1c1c" stroke-width="1.3"/>
<path d="M464 413.5 C466 410 471 409.5 474 411.5 C476 414 475 418 473 420.5 C471 422.5 468 423.5 466.5 423.5 C468 421 469 418.5 468.5 416.5 C468 415 466 414 464 413.5 Z" fill="white" stroke="#1c1c1c" stroke-width="1.3"/>
<path d="M473.4 424 L473.4 439.5 A7.9 3.1 0 0 0 489.2 439.5 L489.2 424 Z" fill="white" stroke="#1c1c1c" stroke-width="1.3"/>
<ellipse cx="481.3" cy="424" rx="7.9" ry="3.1" fill="white" stroke="#1c1c1c" stroke-width="1.3"/>
<ellipse cx="481.3" cy="424" rx="5.2" ry="2" fill="#333" stroke="#1c1c1c" stroke-width="1"/>
<line x1="480.6" y1="416" x2="480.8" y2="423" stroke="#1c1c1c" stroke-width="1.2"/>
<line x1="481.3" y1="435" x2="481.3" y2="443.5" stroke="#1c1c1c" stroke-width="1"/>
<line x1="490" y1="430" x2="503.5" y2="426" stroke="#1c1c1c" stroke-width="1.2"/>
<text x="511" y="428.5" class="lb" font-size="12.5">18</text>
<path d="M415 410 L415 417 A24.5 8.6 0 0 0 464 417 L464 410 Z" fill="white" stroke="#1c1c1c" stroke-width="1.3"/>
<path d="M415 412.5 A24.5 8.6 0 0 0 464 412.5" fill="none" stroke="#1c1c1c" stroke-width="1.3"/>
<path d="M416.5 415 A23 8.6 0 0 0 462.5 415" fill="none" stroke="#1c1c1c" stroke-width="1.7"/>
<ellipse cx="439.5" cy="410" rx="24.5" ry="8.6" fill="white" stroke="#1c1c1c" stroke-width="1.4"/>
<ellipse cx="439.5" cy="410" rx="21.5" ry="7.3" fill="none" stroke="#1c1c1c" stroke-width="1"/>
<ellipse cx="439.5" cy="410" rx="15.5" ry="5.6" fill="none" stroke="#1c1c1c" stroke-width="1.7"/>
<line x1="427" y1="406.5" x2="427" y2="413.8" stroke="#1c1c1c" stroke-width="1.3"/>
<line x1="430.6" y1="406.5" x2="430.6" y2="413.8" stroke="#1c1c1c" stroke-width="1.3"/>
<line x1="434.2" y1="406.5" x2="434.2" y2="413.8" stroke="#1c1c1c" stroke-width="1.3"/>
<line x1="437.8" y1="406.5" x2="437.8" y2="413.8" stroke="#1c1c1c" stroke-width="1.3"/>
<line x1="441.4" y1="406.5" x2="441.4" y2="413.8" stroke="#1c1c1c" stroke-width="1.3"/>
<line x1="445" y1="406.5" x2="445" y2="413.8" stroke="#1c1c1c" stroke-width="1.3"/>
<line x1="448.6" y1="406.5" x2="448.6" y2="413.8" stroke="#1c1c1c" stroke-width="1.3"/>
<line x1="452.2" y1="406.5" x2="452.2" y2="413.8" stroke="#1c1c1c" stroke-width="1.3"/>
<path d="M425 412.5 A15.5 5.6 0 0 1 454 412.5" fill="none" stroke="#1c1c1c" stroke-width="1"/>
<line x1="461" y1="406" x2="475.5" y2="402" stroke="#1c1c1c" stroke-width="1.2"/>
<text x="482.5" y="405.5" class="lb" font-size="12.5">17</text>
<path d="M438.6 396 L439.8 432" fill="none" stroke="#1c1c1c" stroke-width="1.3" stroke-dasharray="9 2.5 2 2.5"/>
<g>
<path d="M405 454.2 L405 460.2 A36 11.7 0 0 0 477 460.2 L477 454.2 A36 11.7 0 0 0 405 454.2 Z" fill="#6a6a6a" stroke="#1c1c1c" stroke-width="1.3"/>
<path d="M476.1 456.3 L476.1 462.5 Q476.5 464.3 476.8 461.2 L476.8 455" fill="white" stroke="#1c1c1c" stroke-width="1.2"/>
<path d="M474.3 458.1 L474.3 464.3 Q475 466.2 475.7 463.1 L475.7 456.9" fill="white" stroke="#1c1c1c" stroke-width="1.2"/>
<path d="M471.6 459.8 L471.6 466 Q472.6 468 473.6 464.9 L473.6 458.7" fill="white" stroke="#1c1c1c" stroke-width="1.2"/>
<path d="M468.1 461.4 L468.1 467.6 Q469.4 469.6 470.6 466.6 L470.6 460.4" fill="white" stroke="#1c1c1c" stroke-width="1.2"/>
<path d="M463.9 462.7 L463.9 468.9 Q465.3 471 466.8 468 L466.8 461.8" fill="white" stroke="#1c1c1c" stroke-width="1.2"/>
<path d="M459 463.8 L459 470 Q460.7 472.2 462.4 469.3 L462.4 463.1" fill="white" stroke="#1c1c1c" stroke-width="1.2"/>
<path d="M453.6 464.7 L453.6 470.9 Q455.4 473.1 457.3 470.3 L457.3 464.1" fill="white" stroke="#1c1c1c" stroke-width="1.2"/>
<path d="M447.9 465.2 L447.9 471.4 Q449.8 473.7 451.8 471.1 L451.8 464.9" fill="white" stroke="#1c1c1c" stroke-width="1.2"/>
<path d="M442 465.4 L442 471.6 Q444 474 446 471.5 L446 465.3" fill="white" stroke="#1c1c1c" stroke-width="1.2"/>
<path d="M436 465.3 L436 471.5 Q438 474 440 471.6 L440 465.4" fill="white" stroke="#1c1c1c" stroke-width="1.2"/>
<path d="M430.2 464.9 L430.2 471.1 Q432.2 473.7 434.1 471.4 L434.1 465.2" fill="white" stroke="#1c1c1c" stroke-width="1.2"/>
<path d="M424.7 464.1 L424.7 470.3 Q426.6 473.1 428.4 470.9 L428.4 464.7" fill="white" stroke="#1c1c1c" stroke-width="1.2"/>
<path d="M419.6 463.1 L419.6 469.3 Q421.3 472.2 423 470 L423 463.8" fill="white" stroke="#1c1c1c" stroke-width="1.2"/>
<path d="M415.2 461.8 L415.2 468 Q416.7 471 418.1 468.9 L418.1 462.7" fill="white" stroke="#1c1c1c" stroke-width="1.2"/>
<path d="M411.4 460.4 L411.4 466.6 Q412.6 469.6 413.9 467.6 L413.9 461.4" fill="white" stroke="#1c1c1c" stroke-width="1.2"/>
<path d="M408.4 458.7 L408.4 464.9 Q409.4 468 410.4 466 L410.4 459.8" fill="white" stroke="#1c1c1c" stroke-width="1.2"/>
<path d="M406.3 456.9 L406.3 463.1 Q407 466.2 407.7 464.3 L407.7 458.1" fill="white" stroke="#1c1c1c" stroke-width="1.2"/>
<path d="M405.2 455 L405.2 461.2 Q405.5 464.3 405.9 462.5 L405.9 456.3" fill="white" stroke="#1c1c1c" stroke-width="1.2"/>
<ellipse cx="441" cy="454.2" rx="36" ry="11.7" fill="white" stroke="#1c1c1c" stroke-width="2.2" stroke-dasharray="2.6 1.6"/>
<ellipse cx="441" cy="454.2" rx="34.5" ry="10.9" fill="white" stroke="#1c1c1c" stroke-width="1.2"/>
</g>
<ellipse cx="441" cy="454.5" rx="27" ry="8.6" fill="none" stroke="#1c1c1c" stroke-width="1.2"/>
<path d="M424.9 446.5 L424.9 452 A14.8 5.8 0 0 0 454.5 452 L454.5 446.5 Z" fill="white" stroke="#1c1c1c" stroke-width="1.3"/>
<ellipse cx="439.7" cy="446.5" rx="14.8" ry="5.8" fill="white" stroke="#1c1c1c" stroke-width="1.3"/>
<ellipse cx="439.7" cy="446.5" rx="14.8" ry="5.8" fill="white" stroke="#1c1c1c" stroke-width="2.2" stroke-dasharray="3.2 1.6"/>
<ellipse cx="439.7" cy="446.5" rx="12.6" ry="4.7" fill="none" stroke="#1c1c1c" stroke-width="1"/>
<ellipse cx="439.7" cy="446.5" rx="9.8" ry="3.6" fill="none" stroke="#1c1c1c" stroke-width="1.6"/>
<line x1="477.5" y1="456" x2="490" y2="454" stroke="#1c1c1c" stroke-width="1.2"/>
<text x="497.5" y="457" class="lb" font-size="12.5">19</text>
<path d="M440.2 434 L441.7 484" fill="none" stroke="#1c1c1c" stroke-width="1.3" stroke-dasharray="9 2.5 2 2.5"/>
<path d="M427.5 491.5 L427.5 493.5 A15 5.6 0 0 0 457.5 493.5 L457.5 491.5 Z" fill="white" stroke="#1c1c1c" stroke-width="1.3"/>
<ellipse cx="442.5" cy="491.5" rx="15" ry="5.6" fill="white" stroke="#1c1c1c" stroke-width="1.3"/>
<ellipse cx="442.5" cy="491.5" rx="10" ry="3.6" fill="none" stroke="#1c1c1c" stroke-width="2.1"/>
<line x1="457.5" y1="490" x2="470" y2="487.3" stroke="#1c1c1c" stroke-width="1.2"/>
<text x="479" y="490.5" class="lb" font-size="12.5">20</text>
<path d="M426.9 512.5 L426.9 520.5 A17.8 7 0 0 0 462.5 520.5 L462.5 512.5 Z" fill="white" stroke="#1c1c1c" stroke-width="1.3"/>
<ellipse cx="444.7" cy="512.5" rx="17.8" ry="7" fill="white" stroke="#1c1c1c" stroke-width="1.3"/>
<ellipse cx="444.7" cy="512.5" rx="15.2" ry="5.9" fill="none" stroke="#1c1c1c" stroke-width="1"/>
<ellipse cx="444.7" cy="512.5" rx="10.5" ry="4" fill="none" stroke="#1c1c1c" stroke-width="2.9"/>
<path d="M435.2 514 A10.5 4 0 0 1 454.2 514" fill="none" stroke="#1c1c1c" stroke-width="1"/>
<line x1="462.5" y1="516" x2="475.5" y2="514" stroke="#1c1c1c" stroke-width="1.2"/>
<text x="485" y="518.5" class="lb" font-size="12.5">21</text>
<path d="M443.6 497 L444.6 508" fill="none" stroke="#1c1c1c" stroke-width="1.3" stroke-dasharray="9 2.5 2 2.5"/>
<path d="M428 546 L428 551 A16.5 6.2 0 0 0 461 551 L461 546 Z" fill="white" stroke="#1c1c1c" stroke-width="1.3"/>
<ellipse cx="444.5" cy="546" rx="16.5" ry="6.2" fill="white" stroke="#1c1c1c" stroke-width="1.3"/>
<ellipse cx="444.5" cy="546" rx="13" ry="4.8" fill="none" stroke="#1c1c1c" stroke-width="1"/>
<ellipse cx="444.5" cy="546" rx="9.5" ry="3.5" fill="none" stroke="#1c1c1c" stroke-width="2"/>
<line x1="461" y1="550" x2="473.5" y2="547.3" stroke="#1c1c1c" stroke-width="1.2"/>
<text x="486" y="550.5" class="lb" font-size="12.5">22</text>
<path d="M445 528 L445.4 541" fill="none" stroke="#1c1c1c" stroke-width="1.3" stroke-dasharray="9 2.5 2 2.5"/>
<path d="M303 221 L303 229 A18.2 7 0 0 0 339.4 229 L339.4 221 Z" fill="white" stroke="#1c1c1c" stroke-width="1.3"/>
<ellipse cx="321.2" cy="221" rx="18.2" ry="7" fill="white" stroke="#1c1c1c" stroke-width="1.3"/>
<ellipse cx="321.2" cy="221" rx="15.6" ry="6.1" fill="none" stroke="#1c1c1c" stroke-width="1"/>
<ellipse cx="321.2" cy="221" rx="11" ry="4.4" fill="none" stroke="#1c1c1c" stroke-width="2.6"/>
<path d="M311.2 222.5 A11 4.4 0 0 1 331.2 222.5" fill="none" stroke="#1c1c1c" stroke-width="1"/>
<line x1="291" y1="229" x2="303.5" y2="229" stroke="#1c1c1c" stroke-width="1.2"/>
<text x="287" y="232.5" class="lb" font-size="12.5">7</text>
<ellipse cx="322.2" cy="250" rx="10.4" ry="4.6" fill="none" stroke="#1c1c1c" stroke-width="1.7"/>
<ellipse cx="322.2" cy="250" rx="8" ry="3.3" fill="none" stroke="#1c1c1c" stroke-width="1"/>
<line x1="299.5" y1="250" x2="312" y2="250" stroke="#1c1c1c" stroke-width="1.2"/>
<text x="294" y="255.5" class="lb" font-size="12.5">8</text>
<line x1="321.5" y1="236" x2="322.5" y2="262" stroke="#1c1c1c" stroke-width="1.3"/>
<g>
<path d="M291 273 L291 281 A32.5 11.5 0 0 0 356 281 L356 273 A32.5 11.5 0 0 0 291 273 Z" fill="#6a6a6a" stroke="#1c1c1c" stroke-width="1.3"/>
<path d="M355 275.3 L355 283.5 Q355.4 285.3 355.8 282.1 L355.8 273.9" fill="white" stroke="#1c1c1c" stroke-width="1.2"/>
<path d="M353 277.3 L353 285.5 Q353.7 287.3 354.5 284.2 L354.5 276" fill="white" stroke="#1c1c1c" stroke-width="1.2"/>
<path d="M350 279.2 L350 287.4 Q351.1 289.2 352.2 286.1 L352.2 277.9" fill="white" stroke="#1c1c1c" stroke-width="1.2"/>
<path d="M346.1 280.8 L346.1 289 Q347.5 290.9 348.8 287.9 L348.8 279.7" fill="white" stroke="#1c1c1c" stroke-width="1.2"/>
<path d="M341.4 282.1 L341.4 290.3 Q343 292.4 344.7 289.4 L344.7 281.2" fill="white" stroke="#1c1c1c" stroke-width="1.2"/>
<path d="M336.1 283.1 L336.1 291.3 Q338 293.5 339.8 290.7 L339.8 282.5" fill="white" stroke="#1c1c1c" stroke-width="1.2"/>
<path d="M330.4 283.7 L330.4 291.9 Q332.4 294.2 334.3 291.5 L334.3 283.3" fill="white" stroke="#1c1c1c" stroke-width="1.2"/>
<path d="M324.5 284 L324.5 292.2 Q326.5 294.6 328.5 292.1 L328.5 283.9" fill="white" stroke="#1c1c1c" stroke-width="1.2"/>
<path d="M318.5 283.9 L318.5 292.1 Q320.5 294.6 322.5 292.2 L322.5 284" fill="white" stroke="#1c1c1c" stroke-width="1.2"/>
<path d="M312.7 283.3 L312.7 291.5 Q314.6 294.2 316.6 291.9 L316.6 283.7" fill="white" stroke="#1c1c1c" stroke-width="1.2"/>
<path d="M307.2 282.5 L307.2 290.7 Q309 293.5 310.9 291.3 L310.9 283.1" fill="white" stroke="#1c1c1c" stroke-width="1.2"/>
<path d="M302.3 281.2 L302.3 289.4 Q304 292.4 305.6 290.3 L305.6 282.1" fill="white" stroke="#1c1c1c" stroke-width="1.2"/>
<path d="M298.2 279.7 L298.2 287.9 Q299.5 290.9 300.9 289 L300.9 280.8" fill="white" stroke="#1c1c1c" stroke-width="1.2"/>
<path d="M294.8 277.9 L294.8 286.1 Q295.9 289.2 297 287.4 L297 279.2" fill="white" stroke="#1c1c1c" stroke-width="1.2"/>
<path d="M292.5 276 L292.5 284.2 Q293.3 287.3 294 285.5 L294 277.3" fill="white" stroke="#1c1c1c" stroke-width="1.2"/>
<path d="M291.2 273.9 L291.2 282.1 Q291.6 285.3 292 283.5 L292 275.3" fill="white" stroke="#1c1c1c" stroke-width="1.2"/>
<ellipse cx="323.5" cy="273" rx="32.5" ry="11.5" fill="white" stroke="#1c1c1c" stroke-width="2.2" stroke-dasharray="2.7 1.6"/>
<ellipse cx="323.5" cy="273" rx="31" ry="10.7" fill="white" stroke="#1c1c1c" stroke-width="1.2"/>
</g>
<ellipse cx="323.5" cy="272.5" rx="24.5" ry="8.3" fill="none" stroke="#1c1c1c" stroke-width="1.2"/>
<path d="M309.6 266.5 L309.6 273 A13.2 5 0 0 0 336 273 L336 266.5 Z" fill="white" stroke="#1c1c1c" stroke-width="1.3"/>
<ellipse cx="322.8" cy="266.5" rx="13.2" ry="5" fill="white" stroke="#1c1c1c" stroke-width="1.3"/>
<ellipse cx="322.8" cy="266.5" rx="9" ry="3.3" fill="none" stroke="#1c1c1c" stroke-width="1.8"/>
<line x1="316" y1="264" x2="316" y2="269.3" stroke="#1c1c1c" stroke-width="1.2"/>
<line x1="319.3" y1="264" x2="319.3" y2="269.3" stroke="#1c1c1c" stroke-width="1.2"/>
<line x1="322.6" y1="264" x2="322.6" y2="269.3" stroke="#1c1c1c" stroke-width="1.2"/>
<line x1="325.9" y1="264" x2="325.9" y2="269.3" stroke="#1c1c1c" stroke-width="1.2"/>
<line x1="329.2" y1="264" x2="329.2" y2="269.3" stroke="#1c1c1c" stroke-width="1.2"/>
<line x1="280.5" y1="279" x2="291" y2="279" stroke="#1c1c1c" stroke-width="1.2"/>
<text x="275" y="283.5" class="lb" font-size="12.5">9</text>
<path d="M322.4 255 L322.8 262" fill="none" stroke="#1c1c1c" stroke-width="1.3" stroke-dasharray="9 2.5 2 2.5"/>
<path d="M312.5 300 L312.5 313 A12.5 4.5 0 0 0 337.5 313 L337.5 300 Z" fill="white" stroke="#1c1c1c" stroke-width="1.3"/>
<ellipse cx="325" cy="300" rx="12.5" ry="4.5" fill="white" stroke="#1c1c1c" stroke-width="1.3"/>
<ellipse cx="325" cy="300" rx="10.3" ry="3.4" fill="none" stroke="#1c1c1c" stroke-width="1"/>
<line x1="301" y1="307" x2="312.5" y2="307" stroke="#1c1c1c" stroke-width="1.2"/>
<text x="292.5" y="310.5" class="lb" font-size="12.5">10</text>
<path d="M325 296 L326 340" fill="none" stroke="#1c1c1c" stroke-width="1.3" stroke-dasharray="9 2.5 2 2.5"/>
<g transform="rotate(-2.4 331 411)">
<path d="M323 465 L323 477.5 A8 2.6 0 0 0 339 477.5 L339 465 Z" fill="white" stroke="#1c1c1c" stroke-width="1.3"/>
<ellipse cx="331" cy="465" rx="8" ry="2.6" fill="white" stroke="#1c1c1c" stroke-width="1.3"/>
<path d="M320.7 427 L320.7 466 A10.3 3 0 0 0 341.3 466 L341.3 427 Z" fill="white" stroke="#1c1c1c" stroke-width="1.3"/>
<line x1="323.5" y1="429" x2="323.5" y2="467" stroke="#1c1c1c" stroke-width="1.3"/>
<line x1="324.7" y1="431" x2="324.7" y2="465" stroke="#1c1c1c" stroke-width="0.7"/>
<line x1="326.8" y1="429" x2="326.8" y2="467" stroke="#1c1c1c" stroke-width="1.3"/>
<line x1="328" y1="431" x2="328" y2="465" stroke="#1c1c1c" stroke-width="0.7"/>
<line x1="330.1" y1="429" x2="330.1" y2="467" stroke="#1c1c1c" stroke-width="1.3"/>
<line x1="331.3" y1="431" x2="331.3" y2="465" stroke="#1c1c1c" stroke-width="0.7"/>
<line x1="333.4" y1="429" x2="333.4" y2="467" stroke="#1c1c1c" stroke-width="1.3"/>
<line x1="334.6" y1="431" x2="334.6" y2="465" stroke="#1c1c1c" stroke-width="0.7"/>
<line x1="336.7" y1="429" x2="336.7" y2="467" stroke="#1c1c1c" stroke-width="1.3"/>
<line x1="337.9" y1="431" x2="337.9" y2="465" stroke="#1c1c1c" stroke-width="0.7"/>
<line x1="340" y1="429" x2="340" y2="467" stroke="#1c1c1c" stroke-width="1.3"/>
<line x1="341.2" y1="431" x2="341.2" y2="465" stroke="#1c1c1c" stroke-width="0.7"/>
<path d="M323 414 L323 427.5 A8 2.8 0 0 0 339 427.5 L339 414 Z" fill="white" stroke="#1c1c1c" stroke-width="1.3"/>
<ellipse cx="331" cy="414" rx="8" ry="2.8" fill="white" stroke="#1c1c1c" stroke-width="1.3"/>
</g>
<line x1="311" y1="423" x2="322.5" y2="423" stroke="#1c1c1c" stroke-width="1.2"/>
<text x="304" y="428.5" class="lb" font-size="12.5">11</text>
<g>
<path d="M310.2 490.5 L310.2 498 A25 8.7 0 0 0 360.2 498 L360.2 490.5 A25 8.7 0 0 0 310.2 490.5 Z" fill="#6a6a6a" stroke="#1c1c1c" stroke-width="1.3"/>
<path d="M358.9 492.8 L358.9 500.5 Q359.4 502.3 359.9 499.1 L359.9 491.4" fill="white" stroke="#1c1c1c" stroke-width="1.2"/>
<path d="M356.3 494.7 L356.3 502.4 Q357.3 504.2 358.2 501.1 L358.2 493.4" fill="white" stroke="#1c1c1c" stroke-width="1.2"/>
<path d="M352.5 496.3 L352.5 504 Q353.8 505.9 355.2 502.9 L355.2 495.2" fill="white" stroke="#1c1c1c" stroke-width="1.2"/>
<path d="M347.7 497.5 L347.7 505.2 Q349.4 507.3 351 504.4 L351 496.7" fill="white" stroke="#1c1c1c" stroke-width="1.2"/>
<path d="M342.1 498.4 L342.1 506.1 Q344 508.3 346 505.6 L346 497.9" fill="white" stroke="#1c1c1c" stroke-width="1.2"/>
<path d="M336.2 498.7 L336.2 506.4 Q338.2 508.8 340.2 506.2 L340.2 498.5" fill="white" stroke="#1c1c1c" stroke-width="1.2"/>
<path d="M330.2 498.5 L330.2 506.2 Q332.2 508.8 334.2 506.4 L334.2 498.7" fill="white" stroke="#1c1c1c" stroke-width="1.2"/>
<path d="M324.4 497.9 L324.4 505.6 Q326.4 508.3 328.3 506.1 L328.3 498.4" fill="white" stroke="#1c1c1c" stroke-width="1.2"/>
<path d="M319.4 496.7 L319.4 504.4 Q321 507.3 322.7 505.2 L322.7 497.5" fill="white" stroke="#1c1c1c" stroke-width="1.2"/>
<path d="M315.2 495.2 L315.2 502.9 Q316.6 505.9 317.9 504 L317.9 496.3" fill="white" stroke="#1c1c1c" stroke-width="1.2"/>
<path d="M312.2 493.4 L312.2 501.1 Q313.1 504.2 314.1 502.4 L314.1 494.7" fill="white" stroke="#1c1c1c" stroke-width="1.2"/>
<path d="M310.5 491.4 L310.5 499.1 Q311 502.3 311.5 500.5 L311.5 492.8" fill="white" stroke="#1c1c1c" stroke-width="1.2"/>
<ellipse cx="335.2" cy="490.5" rx="25" ry="8.7" fill="white" stroke="#1c1c1c" stroke-width="2.2" stroke-dasharray="2.7 1.6"/>
<ellipse cx="335.2" cy="490.5" rx="23.5" ry="7.9" fill="white" stroke="#1c1c1c" stroke-width="1.2"/>
</g>
<ellipse cx="335.5" cy="490.3" rx="18.5" ry="6.3" fill="none" stroke="#1c1c1c" stroke-width="1.2"/>
<ellipse cx="335.7" cy="490" rx="13.2" ry="4.8" fill="white" stroke="#1c1c1c" stroke-width="2.6"/>
<line x1="327" y1="487" x2="327" y2="493.5" stroke="#1c1c1c" stroke-width="1.2"/>
<line x1="330.4" y1="487" x2="330.4" y2="493.5" stroke="#1c1c1c" stroke-width="1.2"/>
<line x1="333.8" y1="487" x2="333.8" y2="493.5" stroke="#1c1c1c" stroke-width="1.2"/>
<line x1="337.2" y1="487" x2="337.2" y2="493.5" stroke="#1c1c1c" stroke-width="1.2"/>
<line x1="340.6" y1="487" x2="340.6" y2="493.5" stroke="#1c1c1c" stroke-width="1.2"/>
<line x1="344" y1="487" x2="344" y2="493.5" stroke="#1c1c1c" stroke-width="1.2"/>
<line x1="301" y1="489" x2="310.5" y2="490" stroke="#1c1c1c" stroke-width="1.2"/>
<text x="295.5" y="492.5" class="lb" font-size="12.5">12</text>
<ellipse cx="337" cy="513" rx="12" ry="5" fill="white" stroke="#1c1c1c" stroke-width="1.7"/>
<ellipse cx="337" cy="513" rx="8.8" ry="3.4" fill="none" stroke="#1c1c1c" stroke-width="1.3"/>
<line x1="312.5" y1="513" x2="325" y2="513" stroke="#1c1c1c" stroke-width="1.2"/>
<text x="308" y="517" class="lb" font-size="12.5">8</text>
<path d="M318.8 525.5 L318.8 533.5 A19.4 7 0 0 0 357.6 533.5 L357.6 525.5 Z" fill="white" stroke="#1c1c1c" stroke-width="1.3"/>
<ellipse cx="338.2" cy="525.5" rx="19.4" ry="7" fill="white" stroke="#1c1c1c" stroke-width="1.3"/>
<ellipse cx="338.2" cy="525.5" rx="16.9" ry="6.2" fill="none" stroke="#1c1c1c" stroke-width="1"/>
<ellipse cx="338.2" cy="525.5" rx="12.5" ry="4.6" fill="none" stroke="#1c1c1c" stroke-width="2.6"/>
<path d="M326.7 527 A12.5 4.6 0 0 1 349.7 527" fill="none" stroke="#1c1c1c" stroke-width="1"/>
<line x1="310.5" y1="531.5" x2="320" y2="531.5" stroke="#1c1c1c" stroke-width="1.2"/>
<text x="304.5" y="536.5" class="lb" font-size="12.5">7</text>
<path d="M504 712.5 L504 722 L530 738 L568 747 L576 743 L610 735 L642 727 L684 715 L706 703 L706 692.5 L683.5 705 L646 716 L610 724 L575 732.5 L567.5 736 L530 727.5 Z" fill="white" stroke="#1c1c1c" stroke-width="1.3" stroke-linejoin="round" stroke-linecap="round"/>
<path d="M506 717 L530 732 L567 741" fill="none" stroke="#1c1c1c" stroke-width="1" stroke-linejoin="round" stroke-linecap="round"/>
<path d="M578 737 L610 729.5 L644 721.5 L684 710 L704 698" fill="none" stroke="#1c1c1c" stroke-width="1" stroke-linejoin="round" stroke-linecap="round"/>
<path d="M580 740 L610 732.5 L644 724.5" fill="none" stroke="#1c1c1c" stroke-width="0.9" stroke-linejoin="round" stroke-linecap="round"/>
<path d="M603.5 722.5 L603.5 737 Q609.8 741 616 737 L616 720.5" fill="white" stroke="#1c1c1c" stroke-width="1.3"/>
<path d="M643.5 715 L643.5 729 Q649.8 733 656 729 L656 713" fill="white" stroke="#1c1c1c" stroke-width="1.3"/>
<path d="M683.5 704 L683.5 717 Q688.5 721 693.5 717 L693.5 702" fill="white" stroke="#1c1c1c" stroke-width="1.3"/>
<path d="M566 733 L566 746 Q572 750 578 746 L578 731" fill="white" stroke="#1c1c1c" stroke-width="1.3"/>
<path d="M527 727 L527 739 Q531.5 743 536 739 L536 725" fill="white" stroke="#1c1c1c" stroke-width="1.3"/>
<path d="M512 722 L512 731 L520 735 L524 733" fill="none" stroke="#1c1c1c" stroke-width="1.2" stroke-linejoin="round" stroke-linecap="round"/>
<path d="M548 742 L548 750 L556 752 L560 749" fill="none" stroke="#1c1c1c" stroke-width="1.2" stroke-linejoin="round" stroke-linecap="round"/>
<path d="M586 739 L586 745 L594 745 L596 738" fill="none" stroke="#1c1c1c" stroke-width="1.2" stroke-linejoin="round" stroke-linecap="round"/>
<path d="M472.5 706 L472.5 719 Q474 726.5 488 727 Q499 727 501.5 722 L501.5 706 Z" fill="white" stroke="#1c1c1c" stroke-width="1.3"/>
<path d="M709.5 681 L709.5 699 Q713 706 725 706 Q737 705 740 698 L740 681 Z" fill="white" stroke="#1c1c1c" stroke-width="1.3"/>
<path d="M490.5 699 L491 688 L498 680 L508 677 L547 668 L590 660 L638.5 655 L642 654 L645 648 L651 645 L673.5 645 L678.5 650 L677 657.5 L708.5 670 L711 675 L711.5 680 L709 688 L706 692.5 L683.5 705 L646 716 L610 724 L575 729.5 L567 737.5 L553 737 L528 727 L505 712 L502 702 Z" fill="white" stroke="#1c1c1c" stroke-width="1.3" stroke-linejoin="round" stroke-linecap="round"/>
<path d="M497.5 698 L498 690 L505 684 L547 677 L588 669 L638.5 664 L671 665.5 L696 676 L701 686 L698 692 L683.5 699 L646 710 L610 718 L577 724 L568 733 L553 733 L530 724 L508 710 L505 701 Z" fill="none" stroke="#1c1c1c" stroke-width="1.2" stroke-linejoin="round" stroke-linecap="round"/>
<path d="M504 696 L515 688 L550 681 L588 673 L638 668 L668 669.5 L690 678 L694 686" fill="none" stroke="#1c1c1c" stroke-width="0.9" stroke-linejoin="round" stroke-linecap="round"/>
<ellipse cx="487" cy="706" rx="14.6" ry="5.8" fill="white" stroke="#1c1c1c" stroke-width="1.3"/>
<ellipse cx="487" cy="706.3" rx="10.5" ry="3.9" fill="none" stroke="#1c1c1c" stroke-width="1.3"/>
<path d="M478 708 A9.5 3.4 0 0 1 496 708" fill="none" stroke="#1c1c1c" stroke-width="0.9"/>
<ellipse cx="724.5" cy="681" rx="14.7" ry="6.4" fill="white" stroke="#1c1c1c" stroke-width="1.3"/>
<ellipse cx="724.5" cy="681.3" rx="10" ry="4.2" fill="none" stroke="#1c1c1c" stroke-width="1.3"/>
<path d="M716 683 A9 3.6 0 0 1 733 683" fill="none" stroke="#1c1c1c" stroke-width="0.9"/>
<ellipse cx="660" cy="652" rx="11" ry="5" fill="none" stroke="#1c1c1c" stroke-width="1.3"/>
<path d="M651 654 A10 4 0 0 1 669 654" fill="none" stroke="#1c1c1c" stroke-width="0.9"/>
<ellipse cx="538" cy="699" rx="18" ry="7" fill="white" stroke="#1c1c1c" stroke-width="1.3"/>
<path d="M521.3 701.4 A18 7 0 0 1 554.7 701.4" fill="none" stroke="#1c1c1c" stroke-width="1.2"/>
<line x1="528.1" y1="700.5" x2="547" y2="700.5" stroke="#1c1c1c" stroke-width="0.8"/>
<ellipse cx="551" cy="720" rx="18" ry="7" fill="white" stroke="#1c1c1c" stroke-width="1.3"/>
<path d="M534.3 722.4 A18 7 0 0 1 567.7 722.4" fill="none" stroke="#1c1c1c" stroke-width="1.2"/>
<line x1="541.1" y1="721.5" x2="560" y2="721.5" stroke="#1c1c1c" stroke-width="0.8"/>
<ellipse cx="630" cy="695.5" rx="24" ry="9.6" fill="white" stroke="#1c1c1c" stroke-width="1.3"/>
<path d="M607.7 697.9 A24 9.6 0 0 1 652.3 697.9" fill="none" stroke="#1c1c1c" stroke-width="1.2"/>
<line x1="616.8" y1="697" x2="642" y2="697" stroke="#1c1c1c" stroke-width="0.8"/>
<ellipse cx="547" cy="670" rx="2.1" ry="1.5" fill="white" stroke="#1c1c1c" stroke-width="1.3"/>
<ellipse cx="505.5" cy="680" rx="2.1" ry="1.5" fill="white" stroke="#1c1c1c" stroke-width="1.3"/>
<ellipse cx="497.5" cy="698" rx="2.1" ry="1.5" fill="white" stroke="#1c1c1c" stroke-width="1.3"/>
<ellipse cx="509" cy="714" rx="2.1" ry="1.5" fill="white" stroke="#1c1c1c" stroke-width="1.3"/>
<ellipse cx="529.5" cy="727.5" rx="2.1" ry="1.5" fill="white" stroke="#1c1c1c" stroke-width="1.3"/>
<ellipse cx="569.5" cy="734" rx="2.1" ry="1.5" fill="white" stroke="#1c1c1c" stroke-width="1.3"/>
<ellipse cx="590" cy="661" rx="2.1" ry="1.5" fill="white" stroke="#1c1c1c" stroke-width="1.3"/>
<ellipse cx="635.5" cy="656" rx="2.1" ry="1.5" fill="white" stroke="#1c1c1c" stroke-width="1.3"/>
<ellipse cx="608" cy="721" rx="2.1" ry="1.5" fill="white" stroke="#1c1c1c" stroke-width="1.3"/>
<ellipse cx="678.5" cy="660.5" rx="2.1" ry="1.5" fill="white" stroke="#1c1c1c" stroke-width="1.3"/>
<ellipse cx="703" cy="672" rx="2.1" ry="1.5" fill="white" stroke="#1c1c1c" stroke-width="1.3"/>
<ellipse cx="706" cy="687.5" rx="2.1" ry="1.5" fill="white" stroke="#1c1c1c" stroke-width="1.3"/>
<ellipse cx="685" cy="704" rx="2.1" ry="1.5" fill="white" stroke="#1c1c1c" stroke-width="1.3"/>
<ellipse cx="647" cy="714" rx="2.1" ry="1.5" fill="white" stroke="#1c1c1c" stroke-width="1.3"/>
<path d="M536 640 L536.5 700" fill="none" stroke="#1c1c1c" stroke-width="1.3" stroke-dasharray="9 2.5 2 2.5"/>
<path d="M547.3 640 L547.6 668" fill="none" stroke="#1c1c1c" stroke-width="1.3" stroke-dasharray="9 2.5 2 2.5"/>
<path d="M547.7 673 L548 694" fill="none" stroke="#1c1c1c" stroke-width="1.3" stroke-dasharray="9 2.5 2 2.5"/>
<path d="M627 620 L629.5 697" fill="none" stroke="#1c1c1c" stroke-width="1.3" stroke-dasharray="9 2.5 2 2.5"/>
<line x1="685.5" y1="639.5" x2="686" y2="657.5" stroke="#1c1c1c" stroke-width="1.2"/>
<text x="687" y="637.5" class="lb" font-size="12.5">25</text>
<path d="M479.2 736 L479.2 751 A10.8 4 0 0 0 500.8 751 L500.8 736 Z" fill="white" stroke="#1c1c1c" stroke-width="1.3"/>
<ellipse cx="490" cy="736" rx="10.8" ry="4" fill="white" stroke="#1c1c1c" stroke-width="1.3"/>
<ellipse cx="490" cy="736" rx="8.6" ry="2.9" fill="none" stroke="#1c1c1c" stroke-width="1.8"/>
<ellipse cx="490" cy="736.3" rx="6.3" ry="2" fill="none" stroke="#1c1c1c" stroke-width="1"/>
<line x1="465" y1="735" x2="479" y2="740" stroke="#1c1c1c" stroke-width="1.2"/>
<text x="457.5" y="739.5" class="lb" font-size="12.5">26</text>
<path d="M712 710.5 L712 727.5 A11.5 4.5 0 0 0 735 727.5 L735 710.5 Z" fill="white" stroke="#1c1c1c" stroke-width="1.3"/>
<ellipse cx="723.5" cy="710.5" rx="11.5" ry="4.5" fill="white" stroke="#1c1c1c" stroke-width="1.3"/>
<ellipse cx="723.5" cy="710.5" rx="9.3" ry="3.4" fill="none" stroke="#1c1c1c" stroke-width="1.8"/>
<ellipse cx="723.5" cy="710.8" rx="7" ry="2.5" fill="none" stroke="#1c1c1c" stroke-width="1"/>
<line x1="729" y1="741" x2="729" y2="745.5" stroke="#1c1c1c" stroke-width="1.2"/>
<line x1="724" y1="716" x2="724" y2="734" stroke="#1c1c1c" stroke-width="0.9" stroke-dasharray="5 2"/>
<text x="728.5" y="759.5" class="lb" font-size="12.5">26</text>
<path d="M508.4 779 L509.6 803.5 L514.2 803.5 L513 779 Z" fill="#5a5a5a" stroke="#1c1c1c" stroke-width="1.2"/>
<line x1="508.4" y1="780" x2="513" y2="780.8" stroke="#1c1c1c" stroke-width="1"/>
<line x1="508.5" y1="782.2" x2="513.1" y2="783" stroke="#1c1c1c" stroke-width="1"/>
<line x1="508.6" y1="784.4" x2="513.2" y2="785.2" stroke="#1c1c1c" stroke-width="1"/>
<line x1="508.7" y1="786.6" x2="513.3" y2="787.4" stroke="#1c1c1c" stroke-width="1"/>
<line x1="508.8" y1="788.8" x2="513.4" y2="789.6" stroke="#1c1c1c" stroke-width="1"/>
<line x1="508.9" y1="791" x2="513.5" y2="791.8" stroke="#1c1c1c" stroke-width="1"/>
<line x1="509" y1="793.2" x2="513.6" y2="794" stroke="#1c1c1c" stroke-width="1"/>
<line x1="509.1" y1="795.4" x2="513.7" y2="796.2" stroke="#1c1c1c" stroke-width="1"/>
<line x1="509.2" y1="797.6" x2="513.8" y2="798.4" stroke="#1c1c1c" stroke-width="1"/>
<line x1="509.3" y1="799.8" x2="513.9" y2="800.6" stroke="#1c1c1c" stroke-width="1"/>
<line x1="509.4" y1="802" x2="514" y2="802.8" stroke="#1c1c1c" stroke-width="1"/>
<path d="M508.3 803.5 L508.6 808.8 A3.8 1.6 0 0 0 516.2 808.8 L515.9 803.5 Z" fill="white" stroke="#1c1c1c" stroke-width="1.3"/>
<ellipse cx="512.1" cy="803.5" rx="3.8" ry="1.4" fill="white" stroke="#1c1c1c" stroke-width="1.2"/>
<path d="M500.4 796 L501.6 819.5 L506.2 819.5 L505 796 Z" fill="#5a5a5a" stroke="#1c1c1c" stroke-width="1.2"/>
<line x1="500.4" y1="797" x2="505" y2="797.8" stroke="#1c1c1c" stroke-width="1"/>
<line x1="500.5" y1="799.2" x2="505.1" y2="800" stroke="#1c1c1c" stroke-width="1"/>
<line x1="500.6" y1="801.4" x2="505.2" y2="802.2" stroke="#1c1c1c" stroke-width="1"/>
<line x1="500.7" y1="803.6" x2="505.3" y2="804.4" stroke="#1c1c1c" stroke-width="1"/>
<line x1="500.8" y1="805.8" x2="505.4" y2="806.6" stroke="#1c1c1c" stroke-width="1"/>
<line x1="500.9" y1="808" x2="505.5" y2="808.8" stroke="#1c1c1c" stroke-width="1"/>
<line x1="501" y1="810.2" x2="505.6" y2="811" stroke="#1c1c1c" stroke-width="1"/>
<line x1="501.1" y1="812.4" x2="505.7" y2="813.2" stroke="#1c1c1c" stroke-width="1"/>
<line x1="501.2" y1="814.6" x2="505.8" y2="815.4" stroke="#1c1c1c" stroke-width="1"/>
<line x1="501.3" y1="816.8" x2="505.9" y2="817.6" stroke="#1c1c1c" stroke-width="1"/>
<path d="M500.2 819.5 L500.6 824.8 A3.8 1.6 0 0 0 508.2 824.8 L507.9 819.5 Z" fill="white" stroke="#1c1c1c" stroke-width="1.3"/>
<ellipse cx="504.1" cy="819.5" rx="3.8" ry="1.4" fill="white" stroke="#1c1c1c" stroke-width="1.2"/>
<path d="M510.4 813 L511.5 836.2 L516.1 836.2 L515 813 Z" fill="#5a5a5a" stroke="#1c1c1c" stroke-width="1.2"/>
<line x1="510.4" y1="814" x2="515" y2="814.8" stroke="#1c1c1c" stroke-width="1"/>
<line x1="510.5" y1="816.2" x2="515.1" y2="817" stroke="#1c1c1c" stroke-width="1"/>
<line x1="510.6" y1="818.4" x2="515.2" y2="819.2" stroke="#1c1c1c" stroke-width="1"/>
<line x1="510.7" y1="820.6" x2="515.3" y2="821.4" stroke="#1c1c1c" stroke-width="1"/>
<line x1="510.8" y1="822.8" x2="515.4" y2="823.6" stroke="#1c1c1c" stroke-width="1"/>
<line x1="510.9" y1="825" x2="515.5" y2="825.8" stroke="#1c1c1c" stroke-width="1"/>
<line x1="511" y1="827.2" x2="515.6" y2="828" stroke="#1c1c1c" stroke-width="1"/>
<line x1="511.1" y1="829.4" x2="515.7" y2="830.2" stroke="#1c1c1c" stroke-width="1"/>
<line x1="511.2" y1="831.6" x2="515.8" y2="832.4" stroke="#1c1c1c" stroke-width="1"/>
<line x1="511.3" y1="833.8" x2="515.9" y2="834.6" stroke="#1c1c1c" stroke-width="1"/>
<path d="M510.2 836.2 L510.5 841.5 A3.8 1.6 0 0 0 518.1 841.5 L517.8 836.2 Z" fill="white" stroke="#1c1c1c" stroke-width="1.3"/>
<ellipse cx="514" cy="836.2" rx="3.8" ry="1.4" fill="white" stroke="#1c1c1c" stroke-width="1.2"/>
<path d="M549.4 769 L550.6 793.5 L555.2 793.5 L554 769 Z" fill="#5a5a5a" stroke="#1c1c1c" stroke-width="1.2"/>
<line x1="549.4" y1="770" x2="554" y2="770.8" stroke="#1c1c1c" stroke-width="1"/>
<line x1="549.5" y1="772.2" x2="554.1" y2="773" stroke="#1c1c1c" stroke-width="1"/>
<line x1="549.6" y1="774.4" x2="554.2" y2="775.2" stroke="#1c1c1c" stroke-width="1"/>
<line x1="549.7" y1="776.6" x2="554.3" y2="777.4" stroke="#1c1c1c" stroke-width="1"/>
<line x1="549.8" y1="778.8" x2="554.4" y2="779.6" stroke="#1c1c1c" stroke-width="1"/>
<line x1="549.9" y1="781" x2="554.5" y2="781.8" stroke="#1c1c1c" stroke-width="1"/>
<line x1="550" y1="783.2" x2="554.6" y2="784" stroke="#1c1c1c" stroke-width="1"/>
<line x1="550.1" y1="785.4" x2="554.7" y2="786.2" stroke="#1c1c1c" stroke-width="1"/>
<line x1="550.2" y1="787.6" x2="554.8" y2="788.4" stroke="#1c1c1c" stroke-width="1"/>
<line x1="550.3" y1="789.8" x2="554.9" y2="790.6" stroke="#1c1c1c" stroke-width="1"/>
<line x1="550.4" y1="792" x2="555" y2="792.8" stroke="#1c1c1c" stroke-width="1"/>
<path d="M549.3 793.5 L549.6 798.8 A3.8 1.6 0 0 0 557.2 798.8 L556.9 793.5 Z" fill="white" stroke="#1c1c1c" stroke-width="1.3"/>
<ellipse cx="553.1" cy="793.5" rx="3.8" ry="1.4" fill="white" stroke="#1c1c1c" stroke-width="1.2"/>
<path d="M532.7 826.7 L533.9 850.5 L538.5 850.5 L537.3 826.7 Z" fill="#5a5a5a" stroke="#1c1c1c" stroke-width="1.2"/>
<line x1="532.7" y1="827.7" x2="537.3" y2="828.5" stroke="#1c1c1c" stroke-width="1"/>
<line x1="532.8" y1="829.9" x2="537.4" y2="830.7" stroke="#1c1c1c" stroke-width="1"/>
<line x1="532.9" y1="832.1" x2="537.5" y2="832.9" stroke="#1c1c1c" stroke-width="1"/>
<line x1="533" y1="834.3" x2="537.6" y2="835.1" stroke="#1c1c1c" stroke-width="1"/>
<line x1="533.1" y1="836.5" x2="537.7" y2="837.3" stroke="#1c1c1c" stroke-width="1"/>
<line x1="533.2" y1="838.7" x2="537.8" y2="839.5" stroke="#1c1c1c" stroke-width="1"/>
<line x1="533.3" y1="840.9" x2="537.9" y2="841.7" stroke="#1c1c1c" stroke-width="1"/>
<line x1="533.4" y1="843.1" x2="538" y2="843.9" stroke="#1c1c1c" stroke-width="1"/>
<line x1="533.5" y1="845.3" x2="538.1" y2="846.1" stroke="#1c1c1c" stroke-width="1"/>
<line x1="533.6" y1="847.5" x2="538.2" y2="848.3" stroke="#1c1c1c" stroke-width="1"/>
<path d="M532.6 850.5 L532.9 855.8 A3.8 1.6 0 0 0 540.5 855.8 L540.2 850.5 Z" fill="white" stroke="#1c1c1c" stroke-width="1.3"/>
<ellipse cx="536.4" cy="850.5" rx="3.8" ry="1.4" fill="white" stroke="#1c1c1c" stroke-width="1.2"/>
<path d="M573.7 833 L574.9 857.5 L579.5 857.5 L578.3 833 Z" fill="#5a5a5a" stroke="#1c1c1c" stroke-width="1.2"/>
<line x1="573.7" y1="834" x2="578.3" y2="834.8" stroke="#1c1c1c" stroke-width="1"/>
<line x1="573.8" y1="836.2" x2="578.4" y2="837" stroke="#1c1c1c" stroke-width="1"/>
<line x1="573.9" y1="838.4" x2="578.5" y2="839.2" stroke="#1c1c1c" stroke-width="1"/>
<line x1="574" y1="840.6" x2="578.6" y2="841.4" stroke="#1c1c1c" stroke-width="1"/>
<line x1="574.1" y1="842.8" x2="578.7" y2="843.6" stroke="#1c1c1c" stroke-width="1"/>
<line x1="574.2" y1="845" x2="578.8" y2="845.8" stroke="#1c1c1c" stroke-width="1"/>
<line x1="574.3" y1="847.2" x2="578.9" y2="848" stroke="#1c1c1c" stroke-width="1"/>
<line x1="574.4" y1="849.4" x2="579" y2="850.2" stroke="#1c1c1c" stroke-width="1"/>
<line x1="574.5" y1="851.6" x2="579.1" y2="852.4" stroke="#1c1c1c" stroke-width="1"/>
<line x1="574.6" y1="853.8" x2="579.2" y2="854.6" stroke="#1c1c1c" stroke-width="1"/>
<line x1="574.7" y1="856" x2="579.3" y2="856.8" stroke="#1c1c1c" stroke-width="1"/>
<path d="M573.6 857.5 L573.9 862.8 A3.8 1.6 0 0 0 581.5 862.8 L581.2 857.5 Z" fill="white" stroke="#1c1c1c" stroke-width="1.3"/>
<ellipse cx="577.4" cy="857.5" rx="3.8" ry="1.4" fill="white" stroke="#1c1c1c" stroke-width="1.2"/>
<path d="M593.4 760.7 L594.6 785.2 L599.2 785.2 L598 760.7 Z" fill="#5a5a5a" stroke="#1c1c1c" stroke-width="1.2"/>
<line x1="593.4" y1="761.7" x2="598" y2="762.5" stroke="#1c1c1c" stroke-width="1"/>
<line x1="593.5" y1="763.9" x2="598.1" y2="764.7" stroke="#1c1c1c" stroke-width="1"/>
<line x1="593.6" y1="766.1" x2="598.2" y2="766.9" stroke="#1c1c1c" stroke-width="1"/>
<line x1="593.7" y1="768.3" x2="598.3" y2="769.1" stroke="#1c1c1c" stroke-width="1"/>
<line x1="593.8" y1="770.5" x2="598.4" y2="771.3" stroke="#1c1c1c" stroke-width="1"/>
<line x1="593.9" y1="772.7" x2="598.5" y2="773.5" stroke="#1c1c1c" stroke-width="1"/>
<line x1="594" y1="774.9" x2="598.6" y2="775.7" stroke="#1c1c1c" stroke-width="1"/>
<line x1="594.1" y1="777.1" x2="598.7" y2="777.9" stroke="#1c1c1c" stroke-width="1"/>
<line x1="594.2" y1="779.3" x2="598.8" y2="780.1" stroke="#1c1c1c" stroke-width="1"/>
<line x1="594.3" y1="781.5" x2="598.9" y2="782.3" stroke="#1c1c1c" stroke-width="1"/>
<line x1="594.4" y1="783.7" x2="599" y2="784.5" stroke="#1c1c1c" stroke-width="1"/>
<path d="M593.3 785.2 L593.6 790.5 A3.8 1.6 0 0 0 601.2 790.5 L600.9 785.2 Z" fill="white" stroke="#1c1c1c" stroke-width="1.3"/>
<ellipse cx="597.1" cy="785.2" rx="3.8" ry="1.4" fill="white" stroke="#1c1c1c" stroke-width="1.2"/>
<path d="M611.7 821.7 L612.9 846.5 L617.5 846.5 L616.3 821.7 Z" fill="#5a5a5a" stroke="#1c1c1c" stroke-width="1.2"/>
<line x1="611.7" y1="822.7" x2="616.3" y2="823.5" stroke="#1c1c1c" stroke-width="1"/>
<line x1="611.8" y1="824.9" x2="616.4" y2="825.7" stroke="#1c1c1c" stroke-width="1"/>
<line x1="611.9" y1="827.1" x2="616.5" y2="827.9" stroke="#1c1c1c" stroke-width="1"/>
<line x1="612" y1="829.3" x2="616.6" y2="830.1" stroke="#1c1c1c" stroke-width="1"/>
<line x1="612.1" y1="831.5" x2="616.7" y2="832.3" stroke="#1c1c1c" stroke-width="1"/>
<line x1="612.2" y1="833.7" x2="616.8" y2="834.5" stroke="#1c1c1c" stroke-width="1"/>
<line x1="612.3" y1="835.9" x2="616.9" y2="836.7" stroke="#1c1c1c" stroke-width="1"/>
<line x1="612.4" y1="838.1" x2="617" y2="838.9" stroke="#1c1c1c" stroke-width="1"/>
<line x1="612.5" y1="840.3" x2="617.1" y2="841.1" stroke="#1c1c1c" stroke-width="1"/>
<line x1="612.6" y1="842.5" x2="617.2" y2="843.3" stroke="#1c1c1c" stroke-width="1"/>
<line x1="612.7" y1="844.7" x2="617.3" y2="845.5" stroke="#1c1c1c" stroke-width="1"/>
<path d="M611.6 846.5 L611.9 851.8 A3.8 1.6 0 0 0 619.5 851.8 L619.2 846.5 Z" fill="white" stroke="#1c1c1c" stroke-width="1.3"/>
<ellipse cx="615.4" cy="846.5" rx="3.8" ry="1.4" fill="white" stroke="#1c1c1c" stroke-width="1.2"/>
<path d="M639.4 755 L640.6 779.5 L645.2 779.5 L644 755 Z" fill="#5a5a5a" stroke="#1c1c1c" stroke-width="1.2"/>
<line x1="639.4" y1="756" x2="644" y2="756.8" stroke="#1c1c1c" stroke-width="1"/>
<line x1="639.5" y1="758.2" x2="644.1" y2="759" stroke="#1c1c1c" stroke-width="1"/>
<line x1="639.6" y1="760.4" x2="644.2" y2="761.2" stroke="#1c1c1c" stroke-width="1"/>
<line x1="639.7" y1="762.6" x2="644.3" y2="763.4" stroke="#1c1c1c" stroke-width="1"/>
<line x1="639.8" y1="764.8" x2="644.4" y2="765.6" stroke="#1c1c1c" stroke-width="1"/>
<line x1="639.9" y1="767" x2="644.5" y2="767.8" stroke="#1c1c1c" stroke-width="1"/>
<line x1="640" y1="769.2" x2="644.6" y2="770" stroke="#1c1c1c" stroke-width="1"/>
<line x1="640.1" y1="771.4" x2="644.7" y2="772.2" stroke="#1c1c1c" stroke-width="1"/>
<line x1="640.2" y1="773.6" x2="644.8" y2="774.4" stroke="#1c1c1c" stroke-width="1"/>
<line x1="640.3" y1="775.8" x2="644.9" y2="776.6" stroke="#1c1c1c" stroke-width="1"/>
<line x1="640.4" y1="778" x2="645" y2="778.8" stroke="#1c1c1c" stroke-width="1"/>
<path d="M639.3 779.5 L639.6 784.8 A3.8 1.6 0 0 0 647.2 784.8 L646.9 779.5 Z" fill="white" stroke="#1c1c1c" stroke-width="1.3"/>
<ellipse cx="643.1" cy="779.5" rx="3.8" ry="1.4" fill="white" stroke="#1c1c1c" stroke-width="1.2"/>
<path d="M650.7 811.7 L651.9 835.2 L656.4 835.2 L655.3 811.7 Z" fill="#5a5a5a" stroke="#1c1c1c" stroke-width="1.2"/>
<line x1="650.7" y1="812.7" x2="655.3" y2="813.5" stroke="#1c1c1c" stroke-width="1"/>
<line x1="650.8" y1="814.9" x2="655.4" y2="815.7" stroke="#1c1c1c" stroke-width="1"/>
<line x1="650.9" y1="817.1" x2="655.5" y2="817.9" stroke="#1c1c1c" stroke-width="1"/>
<line x1="651" y1="819.3" x2="655.6" y2="820.1" stroke="#1c1c1c" stroke-width="1"/>
<line x1="651.1" y1="821.5" x2="655.7" y2="822.3" stroke="#1c1c1c" stroke-width="1"/>
<line x1="651.2" y1="823.7" x2="655.8" y2="824.5" stroke="#1c1c1c" stroke-width="1"/>
<line x1="651.3" y1="825.9" x2="655.9" y2="826.7" stroke="#1c1c1c" stroke-width="1"/>
<line x1="651.4" y1="828.1" x2="656" y2="828.9" stroke="#1c1c1c" stroke-width="1"/>
<line x1="651.5" y1="830.3" x2="656.1" y2="831.1" stroke="#1c1c1c" stroke-width="1"/>
<line x1="651.6" y1="832.5" x2="656.2" y2="833.3" stroke="#1c1c1c" stroke-width="1"/>
<path d="M650.6 835.2 L650.9 840.5 A3.8 1.6 0 0 0 658.4 840.5 L658.1 835.2 Z" fill="white" stroke="#1c1c1c" stroke-width="1.3"/>
<ellipse cx="654.4" cy="835.2" rx="3.8" ry="1.4" fill="white" stroke="#1c1c1c" stroke-width="1.2"/>
<path d="M682.7 760 L683.9 783.5 L688.4 783.5 L687.3 760 Z" fill="#5a5a5a" stroke="#1c1c1c" stroke-width="1.2"/>
<line x1="682.7" y1="761" x2="687.3" y2="761.8" stroke="#1c1c1c" stroke-width="1"/>
<line x1="682.8" y1="763.2" x2="687.4" y2="764" stroke="#1c1c1c" stroke-width="1"/>
<line x1="682.9" y1="765.4" x2="687.5" y2="766.2" stroke="#1c1c1c" stroke-width="1"/>
<line x1="683" y1="767.6" x2="687.6" y2="768.4" stroke="#1c1c1c" stroke-width="1"/>
<line x1="683.1" y1="769.8" x2="687.7" y2="770.6" stroke="#1c1c1c" stroke-width="1"/>
<line x1="683.2" y1="772" x2="687.8" y2="772.8" stroke="#1c1c1c" stroke-width="1"/>
<line x1="683.3" y1="774.2" x2="687.9" y2="775" stroke="#1c1c1c" stroke-width="1"/>
<line x1="683.4" y1="776.4" x2="688" y2="777.2" stroke="#1c1c1c" stroke-width="1"/>
<line x1="683.5" y1="778.6" x2="688.1" y2="779.4" stroke="#1c1c1c" stroke-width="1"/>
<line x1="683.6" y1="780.8" x2="688.2" y2="781.6" stroke="#1c1c1c" stroke-width="1"/>
<path d="M682.6 783.5 L682.9 788.8 A3.8 1.6 0 0 0 690.4 788.8 L690.1 783.5 Z" fill="white" stroke="#1c1c1c" stroke-width="1.3"/>
<ellipse cx="686.4" cy="783.5" rx="3.8" ry="1.4" fill="white" stroke="#1c1c1c" stroke-width="1.2"/>
<path d="M689.4 801.7 L690.6 826.2 L695.2 826.2 L694 801.7 Z" fill="#5a5a5a" stroke="#1c1c1c" stroke-width="1.2"/>
<line x1="689.4" y1="802.7" x2="694" y2="803.5" stroke="#1c1c1c" stroke-width="1"/>
<line x1="689.5" y1="804.9" x2="694.1" y2="805.7" stroke="#1c1c1c" stroke-width="1"/>
<line x1="689.6" y1="807.1" x2="694.2" y2="807.9" stroke="#1c1c1c" stroke-width="1"/>
<line x1="689.7" y1="809.3" x2="694.3" y2="810.1" stroke="#1c1c1c" stroke-width="1"/>
<line x1="689.8" y1="811.5" x2="694.4" y2="812.3" stroke="#1c1c1c" stroke-width="1"/>
<line x1="689.9" y1="813.7" x2="694.5" y2="814.5" stroke="#1c1c1c" stroke-width="1"/>
<line x1="690" y1="815.9" x2="694.6" y2="816.7" stroke="#1c1c1c" stroke-width="1"/>
<line x1="690.1" y1="818.1" x2="694.7" y2="818.9" stroke="#1c1c1c" stroke-width="1"/>
<line x1="690.2" y1="820.3" x2="694.8" y2="821.1" stroke="#1c1c1c" stroke-width="1"/>
<line x1="690.3" y1="822.5" x2="694.9" y2="823.3" stroke="#1c1c1c" stroke-width="1"/>
<line x1="690.4" y1="824.7" x2="695" y2="825.5" stroke="#1c1c1c" stroke-width="1"/>
<path d="M689.3 826.2 L689.6 831.5 A3.8 1.6 0 0 0 697.2 831.5 L696.9 826.2 Z" fill="white" stroke="#1c1c1c" stroke-width="1.3"/>
<ellipse cx="693.1" cy="826.2" rx="3.8" ry="1.4" fill="white" stroke="#1c1c1c" stroke-width="1.2"/>
<path d="M706.7 771.7 L707.9 795.2 L712.4 795.2 L711.3 771.7 Z" fill="#5a5a5a" stroke="#1c1c1c" stroke-width="1.2"/>
<line x1="706.7" y1="772.7" x2="711.3" y2="773.5" stroke="#1c1c1c" stroke-width="1"/>
<line x1="706.8" y1="774.9" x2="711.4" y2="775.7" stroke="#1c1c1c" stroke-width="1"/>
<line x1="706.9" y1="777.1" x2="711.5" y2="777.9" stroke="#1c1c1c" stroke-width="1"/>
<line x1="707" y1="779.3" x2="711.6" y2="780.1" stroke="#1c1c1c" stroke-width="1"/>
<line x1="707.1" y1="781.5" x2="711.7" y2="782.3" stroke="#1c1c1c" stroke-width="1"/>
<line x1="707.2" y1="783.7" x2="711.8" y2="784.5" stroke="#1c1c1c" stroke-width="1"/>
<line x1="707.3" y1="785.9" x2="711.9" y2="786.7" stroke="#1c1c1c" stroke-width="1"/>
<line x1="707.4" y1="788.1" x2="712" y2="788.9" stroke="#1c1c1c" stroke-width="1"/>
<line x1="707.5" y1="790.3" x2="712.1" y2="791.1" stroke="#1c1c1c" stroke-width="1"/>
<line x1="707.6" y1="792.5" x2="712.2" y2="793.3" stroke="#1c1c1c" stroke-width="1"/>
<path d="M706.6 795.2 L706.9 800.5 A3.8 1.6 0 0 0 714.4 800.5 L714.1 795.2 Z" fill="white" stroke="#1c1c1c" stroke-width="1.3"/>
<ellipse cx="710.4" cy="795.2" rx="3.8" ry="1.4" fill="white" stroke="#1c1c1c" stroke-width="1.2"/>
<path d="M710.7 788 L711.8 810.5 L716.4 810.5 L715.3 788 Z" fill="#5a5a5a" stroke="#1c1c1c" stroke-width="1.2"/>
<line x1="710.7" y1="789" x2="715.3" y2="789.8" stroke="#1c1c1c" stroke-width="1"/>
<line x1="710.8" y1="791.2" x2="715.4" y2="792" stroke="#1c1c1c" stroke-width="1"/>
<line x1="710.9" y1="793.4" x2="715.5" y2="794.2" stroke="#1c1c1c" stroke-width="1"/>
<line x1="711" y1="795.6" x2="715.6" y2="796.4" stroke="#1c1c1c" stroke-width="1"/>
<line x1="711.1" y1="797.8" x2="715.7" y2="798.6" stroke="#1c1c1c" stroke-width="1"/>
<line x1="711.2" y1="800" x2="715.8" y2="800.8" stroke="#1c1c1c" stroke-width="1"/>
<line x1="711.3" y1="802.2" x2="715.9" y2="803" stroke="#1c1c1c" stroke-width="1"/>
<line x1="711.4" y1="804.4" x2="716" y2="805.2" stroke="#1c1c1c" stroke-width="1"/>
<line x1="711.5" y1="806.6" x2="716.1" y2="807.4" stroke="#1c1c1c" stroke-width="1"/>
<line x1="711.6" y1="808.8" x2="716.2" y2="809.6" stroke="#1c1c1c" stroke-width="1"/>
<path d="M710.5 810.5 L710.8 815.8 A3.8 1.6 0 0 0 718.4 815.8 L718.1 810.5 Z" fill="white" stroke="#1c1c1c" stroke-width="1.3"/>
<ellipse cx="714.3" cy="810.5" rx="3.8" ry="1.4" fill="white" stroke="#1c1c1c" stroke-width="1.2"/>
<line x1="615.7" y1="853" x2="616.3" y2="864" stroke="#1c1c1c" stroke-width="1.2"/>
<line x1="616.8" y1="875" x2="617" y2="878" stroke="#1c1c1c" stroke-width="1.2"/>
<text x="617" y="892.5" class="lb" font-size="12.5">27</text>
<path d="M119.5 716 L119.5 753 Q122 758 134 758 Q144 758.5 148 757 L148 716 Z" fill="white" stroke="#1c1c1c" stroke-width="1.5"/>
<ellipse cx="134.7" cy="716.2" rx="15.2" ry="5.2" fill="white" stroke="#1c1c1c" stroke-width="1.5"/>
<path d="M120 718.5 Q134 727 150 719" fill="none" stroke="#1c1c1c" stroke-width="1.4"/>
<ellipse cx="134" cy="715.5" rx="9.8" ry="3.9" fill="none" stroke="#1c1c1c" stroke-width="1.5"/>
<path d="M148.5 726 Q152 722 156 726 L156 760" fill="none" stroke="#1c1c1c" stroke-width="1.5"/>
<path d="M150 713.5 L154 710" fill="none" stroke="#1c1c1c" stroke-width="1.5" stroke-linejoin="round" stroke-linecap="round"/>
<path d="M150 719 L160 725 L160 731" fill="none" stroke="#1c1c1c" stroke-width="1.5" stroke-linejoin="round" stroke-linecap="round"/>
<path d="M352.5 681 L352.5 720 L360 736 Q366 735 372 734.5 Q383 733 385.5 726 L385.5 681 Z" fill="white" stroke="#1c1c1c" stroke-width="1.5"/>
<ellipse cx="366.7" cy="680" rx="16" ry="5.2" fill="white" stroke="#1c1c1c" stroke-width="1.5"/>
<ellipse cx="366.7" cy="679.8" rx="10.5" ry="3.6" fill="none" stroke="#1c1c1c" stroke-width="1.5"/>
<path d="M352 683 Q366 690 385 684" fill="none" stroke="#1c1c1c" stroke-width="1.2"/>
<path d="M291 652 L293.5 664 L322.5 668 L321.5 652 Z" fill="white" stroke="#1c1c1c" stroke-width="1.5"/>
<ellipse cx="305.5" cy="651.3" rx="15" ry="5" fill="white" stroke="#1c1c1c" stroke-width="1.5"/>
<ellipse cx="305.5" cy="651.3" rx="10" ry="3.4" fill="none" stroke="#1c1c1c" stroke-width="1.4"/>
<path d="M291 654 Q305 661 321 654.5" fill="none" stroke="#1c1c1c" stroke-width="1.2"/>
<path d="M154 732 L196.3 746.3 L232.5 733.8 L240 731 L277.5 722.5 L315 712.5 L350 702.5 L356 698.5 L360.5 700 L360.5 736.3 L340 750 L302 757.5 L270 765 L245 771 L227.5 775 L196.3 782.5 L154 760 Z" fill="white" stroke="#1c1c1c" stroke-width="1.5" stroke-linejoin="round" stroke-linecap="round"/>
<path d="M155 764 L196.5 786.5 L228 779 L270 769 L302 761.5 L341 754 L362 740" fill="none" stroke="#1c1c1c" stroke-width="1.5" stroke-linejoin="round" stroke-linecap="round"/>
<path d="M157 756.5 L196.3 778 L227.5 770.5 L270 760.5 L302 753 L339 745.5 L358 733" fill="none" stroke="#1c1c1c" stroke-width="1.2" stroke-linejoin="round" stroke-linecap="round"/>
<line x1="196.3" y1="746.3" x2="196.3" y2="782.5" stroke="#1c1c1c" stroke-width="1.7"/>
<path d="M154 736.5 L196.3 751 L231 740 L240 736 L277.5 727 L315 717 L350 707 L356 703" fill="none" stroke="#1c1c1c" stroke-width="1.4" stroke-linejoin="round" stroke-linecap="round"/>
<path d="M230.5 735 L230.5 776 M244 731 L244 772.5" fill="none" stroke="#1c1c1c" stroke-width="1.5"/>
<path d="M230.5 735 Q232 729.5 237 729 Q243 729 244 733" fill="none" stroke="#1c1c1c" stroke-width="1.5"/>
<line x1="234.5" y1="738" x2="234.5" y2="772" stroke="#1c1c1c" stroke-width="0.9"/>
<line x1="199.5" y1="752" x2="199.5" y2="781" stroke="#1c1c1c" stroke-width="1"/>
<line x1="193" y1="750" x2="193" y2="780" stroke="#1c1c1c" stroke-width="1"/>
<path d="M171.3 768 L171.3 746 Q175.7 741.5 180 746 L180 766" fill="white" stroke="#1c1c1c" stroke-width="1.7"/>
<line x1="173.7" y1="747" x2="173.7" y2="766" stroke="#1c1c1c" stroke-width="1"/>
<ellipse cx="175.7" cy="746.2" rx="2.9" ry="1.3" fill="none" stroke="#1c1c1c" stroke-width="1.2"/>
<path d="M213.8 775.5 L213.8 752.5 Q220.1 748 226.3 752.5 L226.3 773.5" fill="white" stroke="#1c1c1c" stroke-width="1.7"/>
<line x1="217.3" y1="753.5" x2="217.3" y2="773.5" stroke="#1c1c1c" stroke-width="1"/>
<ellipse cx="220.1" cy="752.7" rx="4.1" ry="1.3" fill="none" stroke="#1c1c1c" stroke-width="1.2"/>
<path d="M250.5 768 L250.5 739.5 Q256.8 735 263 739.5 L263 766" fill="white" stroke="#1c1c1c" stroke-width="1.7"/>
<line x1="254" y1="740.5" x2="254" y2="766" stroke="#1c1c1c" stroke-width="1"/>
<ellipse cx="256.8" cy="739.7" rx="4.1" ry="1.3" fill="none" stroke="#1c1c1c" stroke-width="1.2"/>
<path d="M288 759 L288 731 Q294.6 726.5 301.3 731 L301.3 757" fill="white" stroke="#1c1c1c" stroke-width="1.7"/>
<line x1="291.7" y1="732" x2="291.7" y2="757" stroke="#1c1c1c" stroke-width="1"/>
<ellipse cx="294.6" cy="731.2" rx="4.4" ry="1.3" fill="none" stroke="#1c1c1c" stroke-width="1.2"/>
<path d="M327.5 749.5 L327.5 721 Q333.8 716.5 340 721 L340 747.5" fill="white" stroke="#1c1c1c" stroke-width="1.7"/>
<line x1="331" y1="722" x2="331" y2="747.5" stroke="#1c1c1c" stroke-width="1"/>
<ellipse cx="333.8" cy="721.2" rx="4.1" ry="1.3" fill="none" stroke="#1c1c1c" stroke-width="1.2"/>
<path d="M352.5 735 L352.5 706 Q357.2 701.5 362 706 L362 733" fill="white" stroke="#1c1c1c" stroke-width="1.7"/>
<line x1="355.2" y1="707" x2="355.2" y2="733" stroke="#1c1c1c" stroke-width="1"/>
<ellipse cx="357.2" cy="706.2" rx="3.1" ry="1.3" fill="none" stroke="#1c1c1c" stroke-width="1.2"/>
<ellipse cx="190" cy="763.8" rx="3.4" ry="3.9" fill="none" stroke="#1c1c1c" stroke-width="1.5"/>
<ellipse cx="189.5" cy="746.8" rx="1.6" ry="1.6" fill="#1c1c1c" stroke="#1c1c1c" stroke-width="0.9"/>
<path d="M277.5 722.5 L277.5 712.5 L302.5 698.8 L322 692 L340 688.8 L351.3 691.3 L355.5 698.8 L350 702.5 L315 712.5 Z" fill="white" stroke="#1c1c1c" stroke-width="1.5" stroke-linejoin="round" stroke-linecap="round"/>
<path d="M277.5 712.5 Q262 706 245 705" fill="none" stroke="#1c1c1c" stroke-width="1.5"/>
<path d="M322.5 666 L340 675 L352.5 677.5" fill="none" stroke="#1c1c1c" stroke-width="1.5" stroke-linejoin="round" stroke-linecap="round"/>
<path d="M321 672 L338 680.5 L351 684" fill="none" stroke="#1c1c1c" stroke-width="1.2" stroke-linejoin="round" stroke-linecap="round"/>
<path d="M240 710 L270 708.8 L282.5 716.3 L277.5 722.5 L240 731 Z" fill="white" stroke="#1c1c1c" stroke-width="1.5" stroke-linejoin="round" stroke-linecap="round"/>
<line x1="240" y1="710" x2="240" y2="731" stroke="#1c1c1c" stroke-width="1.5"/>
<path d="M240 725 L272.5 720 L280 716" fill="none" stroke="#1c1c1c" stroke-width="1.2" stroke-linejoin="round" stroke-linecap="round"/>
<path d="M147.5 697.5 L156.3 690 L165 687 L186 679.5 L208 687.5 L220 694 L217.5 703.8 L206.5 714 L206.5 735.5 L168 724 L154 719.5 L154 710 L147.5 703.8 Z" fill="white" stroke="#1c1c1c" stroke-width="1.5" stroke-linejoin="round" stroke-linecap="round"/>
<ellipse cx="147.6" cy="704.5" rx="1.2" ry="1.2" fill="#1c1c1c" stroke="#1c1c1c" stroke-width="0.8"/>
<path d="M155 697 L161.5 701 L168 704 L206.5 714 L217.5 703.8" fill="none" stroke="#1c1c1c" stroke-width="1.5" stroke-linejoin="round" stroke-linecap="round"/>
<path d="M168 706 L206.5 716" fill="none" stroke="#1c1c1c" stroke-width="1" stroke-linejoin="round" stroke-linecap="round"/>
<line x1="168" y1="704" x2="168" y2="724" stroke="#1c1c1c" stroke-width="1.5"/>
<line x1="161.5" y1="701" x2="161.5" y2="722" stroke="#1c1c1c" stroke-width="1.5"/>
<line x1="206.5" y1="714" x2="206.5" y2="735.5" stroke="#1c1c1c" stroke-width="1.5"/>
<path d="M155.5 727 L168 731.5 L196.3 741" fill="none" stroke="#1c1c1c" stroke-width="1.2" stroke-linejoin="round" stroke-linecap="round"/>
<rect x="189" y="699" width="19" height="8.6" rx="4.2" fill="white" stroke="#1c1c1c" stroke-width="1.3" transform="rotate(8 198.5 703.3)"/>
<path d="M191.5 706 Q198 709.8 206.5 707" fill="none" stroke="#1c1c1c" stroke-width="1.2"/>
<ellipse cx="175" cy="703" rx="1.5" ry="1.1" fill="none" stroke="#1c1c1c" stroke-width="1.4"/>
<ellipse cx="203.5" cy="711" rx="1.5" ry="1.1" fill="none" stroke="#1c1c1c" stroke-width="1.4"/>
<path d="M164.3 687.5 L164.3 690.5 A22 7.6 0 0 0 208.3 690.5 L208.3 687.5 Z" fill="white" stroke="#1c1c1c" stroke-width="1.5"/>
<ellipse cx="186.3" cy="687.3" rx="22" ry="7.6" fill="white" stroke="#1c1c1c" stroke-width="1.5"/>
<ellipse cx="186.3" cy="687" rx="20" ry="6.6" fill="none" stroke="#1c1c1c" stroke-width="1"/>
<path d="M206.3 716.3 L210 733 L217.5 718.8" fill="none" stroke="#1c1c1c" stroke-width="2.4" stroke-linejoin="round" stroke-linecap="round"/>
<path d="M207.5 715 L211.3 733.8" fill="none" stroke="#1c1c1c" stroke-width="1.8" stroke-linejoin="round" stroke-linecap="round"/>
<path d="M217.5 717.5 L210 733.8" fill="none" stroke="#1c1c1c" stroke-width="2.4" stroke-linejoin="round" stroke-linecap="round"/>
<line x1="217.5" y1="704" x2="217.5" y2="740" stroke="#1c1c1c" stroke-width="1.5"/>
<path d="M218.8 698.8 L218.8 704.8 A7.5 3 0 0 0 233.8 704.8 L233.8 698.8 Z" fill="white" stroke="#1c1c1c" stroke-width="1.5"/>
<ellipse cx="226.3" cy="698.8" rx="7.5" ry="3" fill="white" stroke="#1c1c1c" stroke-width="1.5"/>
<ellipse cx="226.3" cy="698.6" rx="4" ry="1.5" fill="none" stroke="#1c1c1c" stroke-width="1.2"/>
<ellipse cx="227.5" cy="711.5" rx="8" ry="3.5" fill="white" stroke="#1c1c1c" stroke-width="1.5"/>
<path d="M220 713 L220 730 M235.5 713 L235.5 731" fill="none" stroke="#1c1c1c" stroke-width="1.4"/>
<path d="M208.3 688 L232 695.5 L240 701 L246 705" fill="none" stroke="#1c1c1c" stroke-width="1.5" stroke-linejoin="round" stroke-linecap="round"/>
<path d="M232.5 688.5 L250 683" fill="none" stroke="#1c1c1c" stroke-width="1.4" stroke-linejoin="round" stroke-linecap="round"/>
<path d="M236 705 L236 708.5 L240 710" fill="none" stroke="#1c1c1c" stroke-width="1.4" stroke-linejoin="round" stroke-linecap="round"/>
<path d="M240.8 667.5 L252.5 671 L260.5 665 Z" fill="#fff" stroke="#1c1c1c" stroke-width="2" stroke-linejoin="round" stroke-linecap="round"/>
<path d="M286.7 663.3 L296.7 662.5 L295 666.7 Z" fill="#fff" stroke="#1c1c1c" stroke-width="1.8" stroke-linejoin="round" stroke-linecap="round"/>
<path d="M301.7 673 L335 680.3 L302.5 677.8 Z" fill="#888" stroke="#1c1c1c" stroke-width="2" stroke-linejoin="round" stroke-linecap="round"/>
<path d="M291.7 685 L310.8 699.2 L313.3 697.5 L298.3 684 Z" fill="#888" stroke="#1c1c1c" stroke-width="1.8" stroke-linejoin="round" stroke-linecap="round"/>
<path d="M247.5 678.3 L222.5 689.2" fill="none" stroke="#1c1c1c" stroke-width="1.5" stroke-linejoin="round" stroke-linecap="round"/>
<path d="M249 681.5 L229 691" fill="none" stroke="#1c1c1c" stroke-width="1.2" stroke-linejoin="round" stroke-linecap="round"/>
<path d="M204 669.6 L222 667.3 L250 663.3 L275 658.5 L291.7 653.5" fill="none" stroke="#1c1c1c" stroke-width="1.5" stroke-linejoin="round" stroke-linecap="round"/>
<path d="M303 671 L322 668.5" fill="none" stroke="#1c1c1c" stroke-width="1.4" stroke-linejoin="round" stroke-linecap="round"/>
<path d="M253.3 677 L253.3 691.5 A22 6.5 0 0 0 297.5 691.5 L297.5 677 Z" fill="white" stroke="#1c1c1c" stroke-width="1.5"/>
<path d="M247.5 674.5 L247.5 678.5 A27.5 9.8 0 0 0 302.5 678.5 L302.5 674.5 Z" fill="white" stroke="#1c1c1c" stroke-width="1.5"/>
<ellipse cx="275" cy="674.3" rx="27.5" ry="9.8" fill="white" stroke="#1c1c1c" stroke-width="1.8"/>
<ellipse cx="275" cy="674.2" rx="24.5" ry="8.3" fill="none" stroke="#1c1c1c" stroke-width="1"/>
<ellipse cx="275" cy="674.3" rx="21" ry="6.7" fill="none" stroke="#1c1c1c" stroke-width="1.8"/>
<path d="M255.5 677 A20.5 6 0 0 0 294.5 677" fill="none" stroke="#1c1c1c" stroke-width="1.2"/>
<path d="M253.3 691.5 L246 697 L245 700" fill="none" stroke="#1c1c1c" stroke-width="1.4" stroke-linejoin="round" stroke-linecap="round"/>
<path d="M297.5 691.5 L302.5 698.8" fill="none" stroke="#1c1c1c" stroke-width="1.4" stroke-linejoin="round" stroke-linecap="round"/>
<path d="M239.2 710.8 L274.2 710.8" fill="none" stroke="#1c1c1c" stroke-width="1.5" stroke-linejoin="round" stroke-linecap="round"/>
<line x1="159.7" y1="722" x2="159.9" y2="755" stroke="#1c1c1c" stroke-width="1.2"/>
<line x1="160" y1="755" x2="171.6" y2="749.6" stroke="#1c1c1c" stroke-width="1" stroke-dasharray="4 2"/>
<path d="M123.8 694.5 L123.8 711.5 A10.2 3.8 0 0 0 144.2 711.5 L144.2 694.5 Z" fill="white" stroke="#1c1c1c" stroke-width="1.3"/>
<ellipse cx="134" cy="694.5" rx="10.2" ry="3.8" fill="white" stroke="#1c1c1c" stroke-width="1.3"/>
<ellipse cx="134" cy="694.5" rx="8" ry="2.7" fill="none" stroke="#1c1c1c" stroke-width="1.8"/>
<ellipse cx="134" cy="694.8" rx="5.7" ry="1.8" fill="none" stroke="#1c1c1c" stroke-width="1"/>
<line x1="134" y1="699" x2="134" y2="716" stroke="#1c1c1c" stroke-width="0.9" stroke-dasharray="5 2"/>
<line x1="112.5" y1="699" x2="123.5" y2="700.6" stroke="#1c1c1c" stroke-width="1.2"/>
<text x="102.5" y="703.5" class="lb" font-size="12.5">26</text>
<path d="M294.3 631.7 L294.3 648.2 A11 4 0 0 0 316.3 648.2 L316.3 631.7 Z" fill="white" stroke="#1c1c1c" stroke-width="1.3"/>
<ellipse cx="305.3" cy="631.7" rx="11" ry="4" fill="white" stroke="#1c1c1c" stroke-width="1.3"/>
<ellipse cx="305.3" cy="631.7" rx="8.8" ry="2.9" fill="none" stroke="#1c1c1c" stroke-width="1.8"/>
<ellipse cx="305.3" cy="632" rx="6.5" ry="2" fill="none" stroke="#1c1c1c" stroke-width="1"/>
<line x1="305.5" y1="624" x2="305.5" y2="646" stroke="#1c1c1c" stroke-width="0.9" stroke-dasharray="5 2"/>
<line x1="316.7" y1="635" x2="328" y2="632.7" stroke="#1c1c1c" stroke-width="1.2"/>
<text x="340.7" y="635.2" class="lb" font-size="12.5">26</text>
<path d="M355.5 659.8 L355.5 676.8 A11.2 4 0 0 0 377.9 676.8 L377.9 659.8 Z" fill="white" stroke="#1c1c1c" stroke-width="1.3"/>
<ellipse cx="366.7" cy="659.8" rx="11.2" ry="4" fill="white" stroke="#1c1c1c" stroke-width="1.3"/>
<ellipse cx="366.7" cy="659.8" rx="9" ry="2.9" fill="none" stroke="#1c1c1c" stroke-width="1.8"/>
<ellipse cx="366.7" cy="660.1" rx="6.7" ry="2" fill="none" stroke="#1c1c1c" stroke-width="1"/>
<line x1="367" y1="664" x2="367" y2="678" stroke="#1c1c1c" stroke-width="0.9" stroke-dasharray="5 2"/>
<line x1="378" y1="664" x2="391" y2="661" stroke="#1c1c1c" stroke-width="1.2"/>
<text x="399.5" y="664" class="lb" font-size="12.5">26</text>
<line x1="386" y1="719.5" x2="400" y2="715" stroke="#1c1c1c" stroke-width="1.2"/>
<text x="409.5" y="718.5" class="lb" font-size="12.5">46</text>
<ellipse cx="406.5" cy="678" rx="2.4" ry="3.6" fill="none" stroke="#1c1c1c" stroke-width="1.3" transform="rotate(-20 406.5 678)"/>
<ellipse cx="408.7" cy="678.6" rx="2.4" ry="3.6" fill="none" stroke="#1c1c1c" stroke-width="1.3" transform="rotate(-20 408.7 678.6)"/>
<ellipse cx="410.9" cy="679.2" rx="2.4" ry="3.6" fill="none" stroke="#1c1c1c" stroke-width="1.3" transform="rotate(-20 410.9 679.2)"/>
<ellipse cx="413.1" cy="679.8" rx="2.4" ry="3.6" fill="none" stroke="#1c1c1c" stroke-width="1.3" transform="rotate(-20 413.1 679.8)"/>
<path d="M395.5 679 L399 677.5 L401 684.5 L397.5 686 Z" fill="white" stroke="#1c1c1c" stroke-width="1.2" stroke-linejoin="round" stroke-linecap="round"/>
<line x1="397.3" y1="678.5" x2="399.3" y2="685.5" stroke="#1c1c1c" stroke-width="0.9"/>
<line x1="419" y1="680.5" x2="436" y2="680.5" stroke="#1c1c1c" stroke-width="1.2"/>
<text x="446" y="685.2" class="lb" font-size="12.5">48</text>
<line x1="400" y1="685.5" x2="420" y2="693" stroke="#1c1c1c" stroke-width="1.2"/>
<text x="428" y="700.5" class="lb" font-size="12.5">47</text>
<line x1="260" y1="654" x2="226" y2="700" stroke="#1c1c1c" stroke-width="1.2"/>
<text x="263" y="652" class="lb" font-size="12.5">49</text>
<path d="M156 799 L168 807.5 L180 815 L190 822 L200 826 L215 824 L230 819 L257.5 810 L295 800 L335 790 L352.5 780 L358 777 L365 776 L382.5 776 L388 773 L389.5 769 L387 764 L381 761 L365 761 L357.5 764 L355 760 L354 756 L346 753 L340 751" fill="none" stroke="#1c1c1c" stroke-width="1.3" stroke-linejoin="round" stroke-linecap="round"/>
<path d="M159 796 L170 804 L182 811.5 L192 818.5 L201 822.5 L214 820.5 L229 815.5 L256.5 806.5 L294 796.5 L333 786.5 L350 777 L352.5 773 L351 765 L349 758 L343 755.5" fill="none" stroke="#1c1c1c" stroke-width="1.2" stroke-linejoin="round" stroke-linecap="round"/>
<ellipse cx="371" cy="769" rx="8" ry="4.5" fill="none" stroke="#1c1c1c" stroke-width="1.3"/>
<ellipse cx="259" cy="809.5" rx="1.6" ry="1.2" fill="#1c1c1c" stroke="#1c1c1c" stroke-width="0.7"/>
<ellipse cx="295.5" cy="799.5" rx="1.6" ry="1.2" fill="#1c1c1c" stroke="#1c1c1c" stroke-width="0.7"/>
<ellipse cx="335" cy="790" rx="1.6" ry="1.2" fill="#1c1c1c" stroke="#1c1c1c" stroke-width="0.7"/>
<ellipse cx="356" cy="775" rx="1.6" ry="1.2" fill="#1c1c1c" stroke="#1c1c1c" stroke-width="0.7"/>
<ellipse cx="354" cy="759.5" rx="1.6" ry="1.2" fill="#1c1c1c" stroke="#1c1c1c" stroke-width="0.7"/>
<ellipse cx="180" cy="814.5" rx="1.6" ry="1.2" fill="#1c1c1c" stroke="#1c1c1c" stroke-width="0.7"/>
<ellipse cx="161" cy="801" rx="1.6" ry="1.2" fill="#1c1c1c" stroke="#1c1c1c" stroke-width="0.7"/>
<ellipse cx="215" cy="823.5" rx="1.6" ry="1.2" fill="#1c1c1c" stroke="#1c1c1c" stroke-width="0.7"/>
<path d="M156 799 L150 799.2 L131.7 799.2 L125 796.7 L122.5 792.5 L126.7 789.2 L141.7 784.2 L151.7 782.5 L155 785.8 L155.8 790.8 L159 796" fill="none" stroke="#1c1c1c" stroke-width="1.3" stroke-linejoin="round" stroke-linecap="round"/>
<ellipse cx="139.5" cy="793" rx="8.5" ry="4" fill="none" stroke="#1c1c1c" stroke-width="1.3"/>
<ellipse cx="149" cy="784.7" rx="2.5" ry="1.5" fill="#1c1c1c" stroke="#1c1c1c" stroke-width="0.7"/>
<path d="M276 809 Q280 817 288 824.5" fill="none" stroke="#1c1c1c" stroke-width="1.2"/>
<text x="289" y="834.5" class="lb" font-size="12.5">31</text>
<path d="M111 783.2 L125.5 780 L126.5 783.8 L112 787.2 Z" fill="white" stroke="#1c1c1c" stroke-width="1.3"/>
<ellipse cx="111.5" cy="785.2" rx="1.5" ry="2.2" fill="white" stroke="#1c1c1c" stroke-width="1.3"/>
<ellipse cx="131" cy="781" rx="2" ry="2.8" fill="none" stroke="#1c1c1c" stroke-width="1.6"/>
<ellipse cx="133" cy="780.5" rx="2" ry="2.8" fill="none" stroke="#1c1c1c" stroke-width="1"/>
<path d="M140 786 C142 778 146 771 150 768.5 L157 765" fill="none" stroke="#1c1c1c" stroke-width="1.3"/>
<path d="M143 787 C145 780 148.5 774 152 771.5 L158 768.5" fill="none" stroke="#1c1c1c" stroke-width="1.3"/>
<line x1="134" y1="784" x2="141" y2="785.5" stroke="#1c1c1c" stroke-width="1.2"/>
<path d="M156 766 L163 765 L166 768 L171 768.5 L172.5 774 L169 778.5 L163 777 L160 779 L156 776 Z" fill="white" stroke="#1c1c1c" stroke-width="1.4"/>
<ellipse cx="160" cy="772.5" rx="2.2" ry="2.8" fill="none" stroke="#1c1c1c" stroke-width="1.3"/>
<ellipse cx="166" cy="772" rx="1.8" ry="3" fill="none" stroke="#1c1c1c" stroke-width="1.2"/>
<ellipse cx="156.5" cy="771" rx="1.6" ry="1.6" fill="#1c1c1c" stroke="#1c1c1c" stroke-width="0.7"/>
<line x1="104" y1="765" x2="129" y2="780" stroke="#1c1c1c" stroke-width="1.2"/>
<text x="97.5" y="764" class="lb" font-size="12.5">38</text>
<line x1="94" y1="810" x2="111" y2="789" stroke="#1c1c1c" stroke-width="1.2"/>
<text x="90.5" y="820.5" class="lb" font-size="12.5">37</text>
<line x1="176" y1="792.5" x2="165" y2="777.5" stroke="#1c1c1c" stroke-width="1.2"/>
<text x="177.5" y="803.5" class="lb" font-size="12.5">39</text>
<path d="M146.1 808.5 L146.1 819 A3.4 1.4 0 0 0 152.9 819 L152.9 808.5 Z" fill="white" stroke="#1c1c1c" stroke-width="1.3"/>
<ellipse cx="149.5" cy="808.5" rx="3.4" ry="1.4" fill="white" stroke="#1c1c1c" stroke-width="1.3"/>
<line x1="149.5" y1="803" x2="149.5" y2="807" stroke="#1c1c1c" stroke-width="1"/>
<line x1="132.5" y1="810.5" x2="146" y2="812.5" stroke="#1c1c1c" stroke-width="1.2"/>
<text x="125.5" y="814.5" class="lb" font-size="12.5">41</text>
<path d="M134 822 L134 845 A7 2.8 0 0 0 148 845 L148 822 Z" fill="white" stroke="#1c1c1c" stroke-width="1.3"/>
<ellipse cx="141" cy="822" rx="7" ry="2.8" fill="white" stroke="#1c1c1c" stroke-width="1.3"/>
<ellipse cx="141" cy="822" rx="5.2" ry="1.8" fill="none" stroke="#1c1c1c" stroke-width="1"/>
<line x1="135.8" y1="835" x2="135.8" y2="843" stroke="#1c1c1c" stroke-width="1"/>
<line x1="120" y1="837" x2="135" y2="839" stroke="#1c1c1c" stroke-width="1.2"/>
<text x="111" y="841.5" class="lb" font-size="12.5">45</text>
<path d="M306.1 769 L306.1 791 A7.2 3 0 0 0 320.5 791 L320.5 769 Z" fill="white" stroke="#1c1c1c" stroke-width="1.3"/>
<ellipse cx="313.3" cy="769" rx="7.2" ry="3" fill="white" stroke="#1c1c1c" stroke-width="1.3"/>
<ellipse cx="313.3" cy="769" rx="4.6" ry="1.7" fill="none" stroke="#1c1c1c" stroke-width="1.6"/>
<line x1="294.5" y1="776" x2="306" y2="779" stroke="#1c1c1c" stroke-width="1.2"/>
<text x="287" y="779.5" class="lb" font-size="12.5">40</text>
<path d="M355 801 L355 809.5 A2.8 1.3 0 0 0 360.6 809.5 L360.6 801 Z" fill="white" stroke="#1c1c1c" stroke-width="1.3"/>
<ellipse cx="357.8" cy="801" rx="2.8" ry="1.3" fill="white" stroke="#1c1c1c" stroke-width="1.3"/>
<line x1="357.8" y1="795" x2="357.8" y2="815" stroke="#1c1c1c" stroke-width="1"/>
<line x1="341" y1="803" x2="355" y2="804.5" stroke="#1c1c1c" stroke-width="1.2"/>
<text x="335" y="807" class="lb" font-size="12.5">41</text>
<path d="M367 798 L367 820 A7.5 3 0 0 0 382 820 L382 798 Z" fill="white" stroke="#1c1c1c" stroke-width="1.3"/>
<ellipse cx="374.5" cy="798" rx="7.5" ry="3" fill="white" stroke="#1c1c1c" stroke-width="1.3"/>
<ellipse cx="374.5" cy="798" rx="5" ry="1.8" fill="none" stroke="#1c1c1c" stroke-width="1.6"/>
<line x1="382.5" y1="797.5" x2="396" y2="794" stroke="#1c1c1c" stroke-width="1.2"/>
<text x="405" y="796.5" class="lb" font-size="12.5">40</text>
<g transform="rotate(-13 101 558.5)">
<rect x="94.5" y="552.3" width="13" height="12.4" rx="2.2" fill="white" stroke="#1c1c1c" stroke-width="1.1"/>
<line x1="97.5" y1="552.5" x2="97.5" y2="564.5" stroke="#1c1c1c" stroke-width="1"/>
<line x1="104.5" y1="552.5" x2="104.5" y2="564.5" stroke="#1c1c1c" stroke-width="1"/>
<ellipse cx="95.6" cy="558.5" rx="1.8" ry="4.4" fill="none" stroke="#1c1c1c" stroke-width="1"/>
<path d="M107.5 554.5 L124 554.5 Q127.5 558.5 124 562.5 L107.5 562.5 Z" fill="white" stroke="#1c1c1c" stroke-width="1.3"/>
<line x1="110" y1="558.5" x2="120" y2="558.5" stroke="#1c1c1c" stroke-width="0.8" stroke-dasharray="4 2"/>
<ellipse cx="133" cy="558.5" rx="1.2" ry="3.2" fill="none" stroke="#1c1c1c" stroke-width="1.3"/>
<ellipse cx="135.1" cy="558.5" rx="1.2" ry="3.2" fill="none" stroke="#1c1c1c" stroke-width="1.3"/>
<ellipse cx="137.2" cy="558.5" rx="1.2" ry="3.2" fill="none" stroke="#1c1c1c" stroke-width="1.3"/>
<ellipse cx="139.3" cy="558.5" rx="1.2" ry="3.2" fill="none" stroke="#1c1c1c" stroke-width="1.3"/>
<ellipse cx="141.4" cy="558.5" rx="1.2" ry="3.2" fill="none" stroke="#1c1c1c" stroke-width="1.3"/>
<ellipse cx="143.5" cy="558.5" rx="1.2" ry="3.2" fill="none" stroke="#1c1c1c" stroke-width="1.3"/>
<ellipse cx="150.5" cy="558.3" rx="2.2" ry="2.2" fill="white" stroke="#1c1c1c" stroke-width="1.3"/>
<line x1="127" y1="558.5" x2="131" y2="558.5" stroke="#1c1c1c" stroke-width="0.9"/>
</g>
<line x1="134.5" y1="497.5" x2="148" y2="543" stroke="#1c1c1c" stroke-width="1.2"/>
<text x="131" y="495" class="lb" font-size="12.5">44</text>
<line x1="105.5" y1="515" x2="134" y2="547" stroke="#1c1c1c" stroke-width="1.2"/>
<text x="100.5" y="512.5" class="lb" font-size="12.5">43</text>
<line x1="77" y1="531" x2="97" y2="555" stroke="#1c1c1c" stroke-width="1.2"/>
<text x="70.5" y="527.5" class="lb" font-size="12.5">42</text>
<line x1="169.3" y1="566" x2="169.3" y2="593" stroke="#1c1c1c" stroke-width="1"/>
<rect x="164.3" y="571" width="10" height="9.5" rx="1.5" fill="white" stroke="#1c1c1c" stroke-width="1.1"/>
<ellipse cx="169.3" cy="571.5" rx="5" ry="1.6" fill="white" stroke="#1c1c1c" stroke-width="1.3"/>
<path d="M166.7 580.5 L166.7 586 L171.9 586 L171.9 580.5" fill="white" stroke="#1c1c1c" stroke-width="1.3"/>
<line x1="164.3" y1="575.5" x2="174.3" y2="575.5" stroke="#1c1c1c" stroke-width="1.8"/>
<line x1="208.7" y1="554.5" x2="208.7" y2="581.5" stroke="#1c1c1c" stroke-width="1"/>
<rect x="203.7" y="559.5" width="10" height="9.5" rx="1.5" fill="white" stroke="#1c1c1c" stroke-width="1.1"/>
<ellipse cx="208.7" cy="560" rx="5" ry="1.6" fill="white" stroke="#1c1c1c" stroke-width="1.3"/>
<path d="M206.1 569 L206.1 574.5 L211.3 574.5 L211.3 569" fill="white" stroke="#1c1c1c" stroke-width="1.3"/>
<line x1="203.7" y1="564" x2="213.7" y2="564" stroke="#1c1c1c" stroke-width="1.8"/>
<line x1="230.7" y1="565" x2="230.7" y2="592" stroke="#1c1c1c" stroke-width="1"/>
<rect x="225.7" y="570" width="10" height="9.5" rx="1.5" fill="white" stroke="#1c1c1c" stroke-width="1.1"/>
<ellipse cx="230.7" cy="570.5" rx="5" ry="1.6" fill="white" stroke="#1c1c1c" stroke-width="1.3"/>
<path d="M228.1 579.5 L228.1 585 L233.3 585 L233.3 579.5" fill="white" stroke="#1c1c1c" stroke-width="1.3"/>
<line x1="225.7" y1="574.5" x2="235.7" y2="574.5" stroke="#1c1c1c" stroke-width="1.8"/>
<path d="M163 617.5 L163 623 L192 634.5 L208 629.5 L222 630.5 L241 621.5 L241 616.5 L229 607.5 L176 612.5 Z" fill="white" stroke="#1c1c1c" stroke-width="1.4" stroke-linejoin="round" stroke-linecap="round"/>
<path d="M163 617.5 L192 628.5 L208 622.5 L222 625 L241 616.5" fill="none" stroke="#1c1c1c" stroke-width="1.3" stroke-linejoin="round" stroke-linecap="round"/>
<line x1="192" y1="628.5" x2="192" y2="634.5" stroke="#1c1c1c" stroke-width="1.3"/>
<line x1="208" y1="622.5" x2="208" y2="629.5" stroke="#1c1c1c" stroke-width="1.3"/>
<line x1="222" y1="625" x2="222" y2="630.5" stroke="#1c1c1c" stroke-width="1.3"/>
<ellipse cx="171" cy="617.8" rx="2.5" ry="1.3" fill="none" stroke="#1c1c1c" stroke-width="1.3"/>
<ellipse cx="191" cy="625.8" rx="2.5" ry="1.3" fill="none" stroke="#1c1c1c" stroke-width="1.3"/>
<ellipse cx="231" cy="614.5" rx="2.5" ry="1.3" fill="none" stroke="#1c1c1c" stroke-width="1.3"/>
<path d="M201 600.5 Q203 592.5 211 591 Q218 590.5 218.5 596 L227 622 L221 625 L214 611 L206 618 Z" fill="white" stroke="#1c1c1c" stroke-width="1.4"/>
<path d="M214 592 Q221 593 222 598 L229.5 619" fill="none" stroke="#1c1c1c" stroke-width="1.3"/>
<ellipse cx="209" cy="602.5" rx="4.6" ry="6.6" fill="white" stroke="#1c1c1c" stroke-width="1.4" transform="rotate(-15 209 602.5)"/>
<ellipse cx="209.5" cy="602.5" rx="3" ry="4.8" fill="none" stroke="#1c1c1c" stroke-width="1" transform="rotate(-15 209.5 602.5)"/>
<path d="M177.5 612.5 L185 601 Q189 597.5 193 598.5 Q197 600 198 604 L207.5 625 L200 627.5 L197 618 L192 621 Z" fill="white" stroke="#1c1c1c" stroke-width="1.4"/>
<path d="M194 598.5 Q199 599.5 201 603 L210.5 623.5" fill="none" stroke="#1c1c1c" stroke-width="1.3"/>
<ellipse cx="190" cy="608" rx="4.2" ry="6" fill="white" stroke="#1c1c1c" stroke-width="1.4" transform="rotate(-15 190 608)"/>
<ellipse cx="190.5" cy="608" rx="2.7" ry="4.3" fill="none" stroke="#1c1c1c" stroke-width="1" transform="rotate(-15 190.5 608)"/>
<line x1="191.3" y1="577.5" x2="191.3" y2="604.5" stroke="#1c1c1c" stroke-width="1"/>
<rect x="186.3" y="582.5" width="10" height="9.5" rx="1.5" fill="white" stroke="#1c1c1c" stroke-width="1.1"/>
<ellipse cx="191.3" cy="583" rx="5" ry="1.6" fill="white" stroke="#1c1c1c" stroke-width="1.3"/>
<path d="M188.7 592 L188.7 597.5 L193.9 597.5 L193.9 592" fill="white" stroke="#1c1c1c" stroke-width="1.3"/>
<line x1="186.3" y1="587" x2="196.3" y2="587" stroke="#1c1c1c" stroke-width="1.8"/>
<line x1="236" y1="576" x2="252" y2="571" stroke="#1c1c1c" stroke-width="1.2"/>
<text x="264" y="573.5" class="lb" font-size="12.5">32</text>
<line x1="242" y1="617.5" x2="254" y2="614.2" stroke="#1c1c1c" stroke-width="1.2"/>
<text x="261" y="617.5" class="lb" font-size="12.5">33</text>
<path d="M174 670 L195 679.5 L215 673.5 L215 671" fill="none" stroke="#1c1c1c" stroke-width="1.7" stroke-linejoin="round" stroke-linecap="round"/>
<path d="M174 661.5 Q174 659.5 176.5 658.8 L191 653.2 Q193 652.4 195.5 653.4 L213 660.8 Q215.5 662 215 664.5 L215 666 L196 673.5 Q194 674 192 673.2 L174 665.5 Z" fill="white" stroke="#1c1c1c" stroke-width="1.4"/>
<path d="M174 661.5 L193.5 670 L215 663" fill="none" stroke="#1c1c1c" stroke-width="1.2" stroke-linejoin="round" stroke-linecap="round"/>
<ellipse cx="178" cy="661.5" rx="1.5" ry="1" fill="none" stroke="#1c1c1c" stroke-width="1.2"/>
<ellipse cx="193.5" cy="655.5" rx="1.5" ry="1" fill="none" stroke="#1c1c1c" stroke-width="1.2"/>
<ellipse cx="210.5" cy="662.5" rx="1.5" ry="1" fill="none" stroke="#1c1c1c" stroke-width="1.2"/>
<ellipse cx="194" cy="668" rx="1.5" ry="1" fill="none" stroke="#1c1c1c" stroke-width="1.2"/>
<ellipse cx="176.5" cy="668.8" rx="1.6" ry="1.1" fill="#1c1c1c" stroke="#1c1c1c" stroke-width="0.8"/>
<ellipse cx="195" cy="678" rx="2" ry="1.2" fill="#1c1c1c" stroke="#1c1c1c" stroke-width="0.8"/>
<ellipse cx="213.5" cy="672" rx="1.6" ry="1.1" fill="#1c1c1c" stroke="#1c1c1c" stroke-width="0.8"/>
<line x1="176" y1="639.5" x2="176" y2="653.5" stroke="#1c1c1c" stroke-width="1.2"/>
<ellipse cx="176" cy="644.5" rx="4" ry="1.9" fill="#333" stroke="#1c1c1c" stroke-width="1"/>
<line x1="174.5" y1="650" x2="177.5" y2="650" stroke="#1c1c1c" stroke-width="1"/>
<line x1="193" y1="634" x2="193" y2="648" stroke="#1c1c1c" stroke-width="1.2"/>
<ellipse cx="193" cy="639" rx="4" ry="1.9" fill="#333" stroke="#1c1c1c" stroke-width="1"/>
<line x1="191.5" y1="644.5" x2="194.5" y2="644.5" stroke="#1c1c1c" stroke-width="1"/>
<line x1="211" y1="642.5" x2="211" y2="656.5" stroke="#1c1c1c" stroke-width="1.2"/>
<ellipse cx="211" cy="647.5" rx="4" ry="1.9" fill="#333" stroke="#1c1c1c" stroke-width="1"/>
<line x1="209.5" y1="653" x2="212.5" y2="653" stroke="#1c1c1c" stroke-width="1"/>
<line x1="193.2" y1="647.5" x2="193.2" y2="661.5" stroke="#1c1c1c" stroke-width="1.2"/>
<ellipse cx="193.2" cy="652.5" rx="4" ry="1.9" fill="#333" stroke="#1c1c1c" stroke-width="1"/>
<line x1="191.7" y1="658" x2="194.7" y2="658" stroke="#1c1c1c" stroke-width="1"/>
<line x1="215" y1="647" x2="230" y2="642.5" stroke="#1c1c1c" stroke-width="1.2"/>
<text x="237.5" y="644.5" class="lb" font-size="12.5">34</text>
<line x1="216.5" y1="663" x2="227.5" y2="660.5" stroke="#1c1c1c" stroke-width="1.2"/>
<text x="236.5" y="663.5" class="lb" font-size="12.5">35</text>
<line x1="155.5" y1="663" x2="175" y2="668.5" stroke="#1c1c1c" stroke-width="1.2"/>
<text x="146.5" y="667" class="lb" font-size="12.5">36</text>
<path d="M164.5 880.5 L200 871.2 L205 881 L168 892.3 Z" fill="white" stroke="#1c1c1c" stroke-width="1.3"/>
<ellipse cx="166" cy="886.3" rx="3.2" ry="6.2" fill="white" stroke="#1c1c1c" stroke-width="1.3" transform="rotate(-15 166 886.3)"/>
<path d="M194 864.5 L199 868 L202 875 L205.5 877.5" fill="none" stroke="#1c1c1c" stroke-width="1.3" stroke-linejoin="round" stroke-linecap="round"/>
<path d="M196.5 863.5 L201 867 L204 874" fill="none" stroke="#1c1c1c" stroke-width="1" stroke-linejoin="round" stroke-linecap="round"/>
<path d="M217 874 L227.5 869 L240 872.5 L240 880 L232 883 L219 879.5 Z" fill="white" stroke="#1c1c1c" stroke-width="1.4" stroke-linejoin="round" stroke-linecap="round"/>
<path d="M227.5 869 L227.5 876 L240 880" fill="none" stroke="#1c1c1c" stroke-width="1.2" stroke-linejoin="round" stroke-linecap="round"/>
<rect x="233" y="872.5" width="5.5" height="6.5" fill="#444" stroke="none"/>
<path d="M207.8 838 Q208 832.5 213 831.8 L218 831.5 Q222.2 832 222.3 837 L225.3 867 Q226 878 217 880 Q208 881.5 205.8 874 L206.3 866 Z" fill="white" stroke="#1c1c1c" stroke-width="1.6"/>
<path d="M211 838 L210 861 M218.5 837 L220.5 862" fill="none" stroke="#1c1c1c" stroke-width="1.3"/>
<path d="M213 840 L212.5 858 M216 840 L217 859" fill="none" stroke="#1c1c1c" stroke-width="0.9"/>
<ellipse cx="215" cy="835.5" rx="3" ry="1.8" fill="none" stroke="#1c1c1c" stroke-width="1.2"/>
<ellipse cx="210.7" cy="871" rx="5.3" ry="7.6" fill="white" stroke="#1c1c1c" stroke-width="1.7" transform="rotate(-8 210.7 871)"/>
<ellipse cx="211" cy="871" rx="3.2" ry="5" fill="none" stroke="#1c1c1c" stroke-width="1.3" transform="rotate(-8 211 871)"/>
<path d="M216.5 868 L219 878 M221 866 L223.5 877" fill="none" stroke="#1c1c1c" stroke-width="1"/>
<line x1="195" y1="844" x2="207.5" y2="846" stroke="#1c1c1c" stroke-width="1.2"/>
<text x="187.5" y="849" class="lb" font-size="12.5">30</text>
<line x1="180" y1="862" x2="195" y2="865" stroke="#1c1c1c" stroke-width="1.2"/>
<text x="171" y="865" class="lb" font-size="12.5">29</text>
<line x1="149.5" y1="879" x2="161" y2="881" stroke="#1c1c1c" stroke-width="1.2"/>
<text x="142" y="882" class="lb" font-size="12.5">28</text>
<path d="M234 866 L247.5 870 L248 876" fill="none" stroke="#1c1c1c" stroke-width="1.2" stroke-linejoin="round" stroke-linecap="round"/>
<line x1="234" y1="866" x2="233" y2="872" stroke="#1c1c1c" stroke-width="1.2"/>
<ellipse cx="248.5" cy="877.5" rx="3.6" ry="1.6" fill="white" stroke="#1c1c1c" stroke-width="1.3"/>
<rect x="245.5" y="879" width="7" height="4.5" fill="white" stroke="#1c1c1c" stroke-width="1"/>
<path d="M244.5 884 L245.5 917.5 L254 917.5 L253.5 884 Z" fill="white" stroke="#1c1c1c" stroke-width="1.3"/>
<line x1="249.3" y1="884" x2="249.8" y2="917" stroke="#1c1c1c" stroke-width="0.8"/>
<ellipse cx="250" cy="920.5" rx="5" ry="1.8" fill="#555" stroke="#1c1c1c" stroke-width="1.2"/>
<ellipse cx="250.3" cy="924.5" rx="4.4" ry="1.7" fill="white" stroke="#1c1c1c" stroke-width="1.3"/>
<path d="M246.8 928 L247.2 942.5 L255 942.5 L254.6 928 Z" fill="white" stroke="#1c1c1c" stroke-width="1.3"/>
<ellipse cx="250.7" cy="928" rx="3.9" ry="1.5" fill="white" stroke="#1c1c1c" stroke-width="1.2"/>
<rect x="248.8" y="942.5" width="4.5" height="5" fill="white" stroke="#1c1c1c" stroke-width="0.9"/>
<path d="M247.3 948.5 L248 968 L256 968 L255.3 948.5 Z" fill="white" stroke="#1c1c1c" stroke-width="1.3"/>
<ellipse cx="251.3" cy="948.5" rx="4" ry="1.5" fill="white" stroke="#1c1c1c" stroke-width="1.2"/>
<line x1="252" y1="968" x2="252.2" y2="972.5" stroke="#1c1c1c" stroke-width="1.2"/>
<ellipse cx="238.5" cy="957" rx="2.6" ry="1.5" fill="#333" stroke="#1c1c1c" stroke-width="1"/>
<line x1="240.5" y1="957" x2="247" y2="955" stroke="#1c1c1c" stroke-width="1"/>
<line x1="232.5" y1="897.5" x2="245" y2="899" stroke="#1c1c1c" stroke-width="1.2"/>
<text x="226" y="900.5" class="lb" font-size="12.5">24</text>
<line x1="222.5" y1="954" x2="234.5" y2="956" stroke="#1c1c1c" stroke-width="1.2"/>
<text x="214" y="955.5" class="lb" font-size="12.5">23</text>
</g>
</svg>
</body></html>
